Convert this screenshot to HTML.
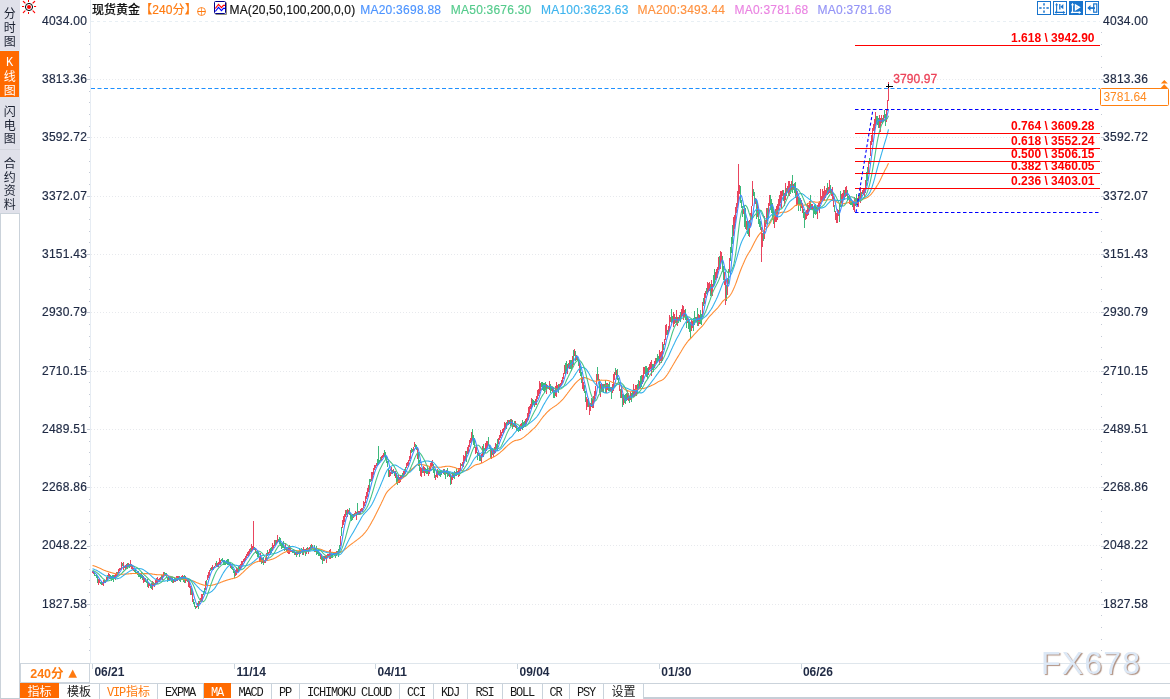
<!DOCTYPE html>
<html lang="zh-CN">
<head>
<meta charset="utf-8">
<title>现货黄金 240分</title>
<style>
html,body{margin:0;padding:0;background:#fff;}
body{width:1170px;height:699px;position:relative;overflow:hidden;font-family:"Liberation Sans","Noto Sans CJK SC",sans-serif;font-size:12px;color:#1f2a44;}
div{position:absolute;box-sizing:border-box;white-space:nowrap;}
#chart{position:absolute;left:0;top:0;}
.yl,.yr,.dt,.fib,.hd{line-height:14px;height:14px;}
.yl,.yr{-webkit-text-stroke:0.2px #1f2a44;}
.yl{left:30px;width:57.1px;text-align:right;letter-spacing:0.25px;}
.yr{left:1103.1px;letter-spacing:0.25px;}
.dt{top:664.6px;font-weight:bold;}
.fib{right:75.5px;font-weight:bold;color:#ff0000;}
.hd{top:2.9px;-webkit-text-stroke:0.15px currentColor;}
.side{left:0;width:20px;background:#e0e1ea;text-align:center;font-family:"Liberation Serif","Noto Sans CJK SC",sans-serif;color:#1a2030;}
.side span{display:block;position:absolute;left:0;width:19.3px;height:14px;line-height:14px;font-size:12px;}
.tab{top:684px;height:15px;line-height:19.5px;text-align:center;font-family:"Liberation Mono","Noto Sans CJK SC",monospace;font-size:12px;color:#1a1a1a;border-right:1px solid #c9d3dc;overflow:hidden;}
.tab .ln{display:inline-block;letter-spacing:-1.2px;margin-right:1.2px;}
.tab.cn{font-size:12px;}
.tab.on{top:683px;height:15px;line-height:21.5px;background:#ff6a00;color:#fff;border-right:0;}
.tab.vip{color:#ff7a0f;}
</style>
</head>
<body>
<svg id="chart" width="1170" height="699" viewBox="0 0 1170 699" fill="none" stroke-width="1" shape-rendering="crispEdges">
<path d="M90.5 0V663" stroke="#e6ecf3"/>
<path d="M91 21.5H1100" stroke="#e8eff4" stroke-dasharray="3 3"/>
<path d="M91 79.5H1100" stroke="#e7e9ed" stroke-dasharray="1 2"/>
<path d="M91 137.5H1100" stroke="#e7e9ed" stroke-dasharray="1 2"/>
<path d="M91 196.5H1100" stroke="#e7e9ed" stroke-dasharray="1 2"/>
<path d="M91 254.5H1100" stroke="#e7e9ed" stroke-dasharray="1 2"/>
<path d="M91 312.5H1100" stroke="#e7e9ed" stroke-dasharray="1 2"/>
<path d="M91 371.5H1100" stroke="#e7e9ed" stroke-dasharray="1 2"/>
<path d="M91 429.5H1100" stroke="#e7e9ed" stroke-dasharray="1 2"/>
<path d="M91 487.5H1100" stroke="#e7e9ed" stroke-dasharray="1 2"/>
<path d="M91 545.5H1100" stroke="#e7e9ed" stroke-dasharray="1 2"/>
<path d="M91 604.5H1100" stroke="#e7e9ed" stroke-dasharray="1 2"/>
<path d="M89 32.5H90M1101 32.5H1102M89 44.5H90M1101 44.5H1102M89 56.5H90M1101 56.5H1102M89 67.5H90M1101 67.5H1102M87 79.5H90M1101 79.5H1104M89 91.5H90M1101 91.5H1102M89 102.5H90M1101 102.5H1102M89 114.5H90M1101 114.5H1102M89 126.5H90M1101 126.5H1102M87 137.5H90M1101 137.5H1104M89 149.5H90M1101 149.5H1102M89 161.5H90M1101 161.5H1102M89 172.5H90M1101 172.5H1102M89 184.5H90M1101 184.5H1102M87 196.5H90M1101 196.5H1104M89 207.5H90M1101 207.5H1102M89 219.5H90M1101 219.5H1102M89 231.5H90M1101 231.5H1102M89 242.5H90M1101 242.5H1102M87 254.5H90M1101 254.5H1104M89 266.5H90M1101 266.5H1102M89 277.5H90M1101 277.5H1102M89 289.5H90M1101 289.5H1102M89 301.5H90M1101 301.5H1102M87 312.5H90M1101 312.5H1104M89 324.5H90M1101 324.5H1102M89 336.5H90M1101 336.5H1102M89 347.5H90M1101 347.5H1102M89 359.5H90M1101 359.5H1102M87 371.5H90M1101 371.5H1104M89 382.5H90M1101 382.5H1102M89 394.5H90M1101 394.5H1102M89 406.5H90M1101 406.5H1102M89 417.5H90M1101 417.5H1102M87 429.5H90M1101 429.5H1104M89 441.5H90M1101 441.5H1102M89 452.5H90M1101 452.5H1102M89 464.5H90M1101 464.5H1102M89 476.5H90M1101 476.5H1102M87 487.5H90M1101 487.5H1104M89 499.5H90M1101 499.5H1102M89 511.5H90M1101 511.5H1102M89 522.5H90M1101 522.5H1102M89 534.5H90M1101 534.5H1102M87 546.5H90M1101 546.5H1104M89 557.5H90M1101 557.5H1102M89 569.5H90M1101 569.5H1102M89 580.5H90M1101 580.5H1102M89 592.5H90M1101 592.5H1102M87 604.5H90M1101 604.5H1104M89 615.5H90M1101 615.5H1102M89 627.5H90M1101 627.5H1102M89 639.5H90M1101 639.5H1102M89 650.5H90M1101 650.5H1102" stroke="#c4cad6"/>
<g shape-rendering="crispEdges">
<path d="M94.5 572.3V575.5M95.5 574.5V575.9M96.5 574.1V577.7M97.5 576.3V582.7M100.5 581.6V583.6M101.5 581.9V584.6M104.5 579.8V582.9M107.5 575.4V580.5M110.5 575.0V578.7M111.5 576.2V581.3M112.5 574.9V579.9M113.5 575.2V581.9M117.5 572.0V575.8M122.5 563.3V566.4M124.5 565.6V567.9M127.5 563.0V569.2M129.5 563.8V568.3M134.5 569.5V571.7M135.5 569.6V574.1M136.5 571.8V573.9M137.5 571.2V574.7M138.5 570.6V576.5M139.5 574.3V577.4M140.5 574.4V579.3M141.5 572.4V577.9M142.5 575.2V580.0M145.5 577.6V582.4M146.5 580.6V583.3M147.5 578.9V586.9M150.5 584.2V587.5M151.5 583.1V589.3M161.5 575.4V579.0M164.5 571.8V575.0M165.5 573.3V575.5M166.5 572.9V578.2M167.5 576.6V581.9M169.5 577.2V580.9M171.5 576.6V581.7M172.5 577.2V582.5M174.5 577.4V581.9M179.5 575.8V581.2M180.5 576.7V581.5M183.5 576.4V581.8M184.5 575.0V582.7M187.5 579.9V582.2M191.5 587.7V595.1M193.5 599.2V603.5M194.5 601.5V606.7M195.5 605.5V608.7M198.5 601.4V609.0M203.5 591.3V594.8M204.5 588.4V593.0M206.5 580.4V586.1M210.5 568.3V571.1M213.5 566.6V569.5M216.5 561.4V566.7M221.5 558.7V561.1M222.5 558.2V561.8M223.5 559.5V564.7M224.5 560.4V564.8M225.5 561.7V564.9M226.5 560.1V563.9M227.5 558.5V565.2M228.5 559.2V565.4M229.5 562.4V566.1M231.5 565.7V568.9M232.5 567.4V570.1M233.5 569.1V573.4M234.5 570.5V577.8M238.5 565.6V572.1M250.5 547.7V552.0M254.5 547.1V549.5M256.5 551.3V553.7M257.5 550.8V557.4M258.5 552.3V557.2M261.5 558.0V563.5M263.5 557.4V564.9M267.5 550.4V556.4M270.5 548.2V554.9M271.5 546.5V552.9M275.5 540.3V544.5M278.5 538.8V541.7M279.5 536.8V543.5M280.5 537.6V545.8M281.5 542.8V548.6M282.5 542.7V548.1M283.5 541.2V547.9M284.5 547.0V550.5M286.5 546.6V551.0M292.5 549.8V553.3M293.5 549.0V553.2M294.5 550.7V554.9M296.5 552.3V556.5M299.5 548.3V557.0M301.5 547.6V551.7M302.5 548.8V555.3M305.5 548.8V556.4M307.5 546.5V551.1M310.5 544.6V549.5M312.5 544.7V548.7M313.5 548.0V549.7M314.5 545.3V552.2M316.5 546.3V554.5M317.5 551.0V554.0M318.5 551.5V556.1M319.5 552.7V555.7M321.5 554.3V560.2M322.5 556.9V564.0M324.5 555.8V560.7M331.5 552.3V558.3M332.5 553.5V557.5M333.5 552.0V555.1M335.5 551.6V558.3M337.5 550.8V554.2M338.5 548.8V557.1M339.5 544.9V553.4M341.5 527.2V536.1M346.5 509.5V514.9M349.5 508.0V514.8M350.5 512.9V518.8M351.5 514.9V520.6M352.5 513.9V520.0M357.5 503.0V514.8M369.5 479.2V489.8M370.5 479.2V482.4M377.5 459.0V464.9M378.5 446.0V464.9M379.5 459.9V462.6M380.5 456.9V461.4M384.5 449.9V455.9M385.5 452.0V459.5M386.5 456.0V462.9M387.5 460.6V467.3M388.5 467.5V476.7M392.5 470.0V474.1M394.5 471.1V475.7M396.5 473.4V484.0M397.5 477.1V484.6M402.5 472.6V477.0M405.5 467.4V474.3M411.5 447.6V453.3M412.5 448.8V452.0M415.5 443.7V448.7M416.5 444.8V450.3M418.5 451.9V465.8M419.5 459.5V471.4M422.5 468.2V473.4M425.5 467.8V473.2M426.5 469.4V473.8M427.5 465.5V473.9M433.5 464.0V473.0M434.5 468.7V478.1M438.5 471.1V474.1M439.5 471.1V475.9M440.5 470.1V477.1M441.5 469.9V474.8M444.5 469.1V474.9M445.5 470.5V479.0M447.5 467.6V477.1M448.5 471.7V475.6M450.5 474.0V484.8M453.5 473.1V478.2M454.5 471.0V479.4M456.5 468.2V475.8M461.5 463.6V466.2M466.5 451.3V462.0M472.5 429.1V439.7M473.5 435.0V445.0M474.5 438.4V447.9M477.5 452.2V459.8M479.5 453.6V460.7M480.5 456.3V460.7M483.5 443.9V456.7M484.5 447.9V451.0M488.5 437.4V444.8M489.5 444.8V449.2M490.5 447.4V457.7M492.5 448.4V454.5M496.5 444.4V449.1M497.5 439.1V450.9M506.5 421.6V428.9M508.5 420.1V424.5M510.5 418.9V426.4M512.5 420.2V428.5M514.5 421.4V427.4M516.5 425.1V430.5M517.5 428.3V431.2M518.5 426.9V432.1M519.5 426.0V430.6M522.5 420.4V430.2M523.5 422.1V427.7M524.5 421.0V425.9M532.5 398.8V406.5M533.5 400.0V405.0M534.5 400.6V407.0M541.5 382.2V386.8M542.5 382.0V389.6M543.5 382.7V391.3M544.5 383.2V392.5M545.5 382.1V389.7M547.5 384.9V388.0M548.5 385.5V389.1M550.5 384.4V392.6M551.5 386.0V390.9M553.5 386.8V398.1M554.5 389.5V397.6M558.5 384.4V392.6M565.5 363.0V374.8M566.5 360.7V370.9M568.5 362.6V367.6M570.5 360.4V368.8M571.5 360.3V370.6M573.5 350.3V364.5M575.5 351.3V361.3M577.5 357.2V361.2M578.5 359.3V366.0M580.5 366.4V376.2M581.5 371.9V382.7M584.5 384.8V393.4M585.5 391.1V402.4M588.5 398.4V406.9M591.5 398.0V406.9M597.5 366.5V380.2M599.5 379.2V392.9M601.5 383.3V392.0M603.5 383.8V392.8M605.5 379.5V392.8M608.5 383.5V391.2M609.5 382.1V390.7M611.5 387.0V398.7M615.5 368.4V375.2M617.5 368.6V380.3M618.5 377.7V382.6M620.5 388.8V398.2M622.5 393.5V406.8M624.5 395.2V403.4M625.5 394.0V404.1M626.5 392.5V400.7M629.5 395.7V402.9M631.5 393.1V401.8M632.5 389.9V397.3M637.5 384.4V393.9M638.5 380.4V388.7M640.5 375.5V388.9M641.5 375.1V387.0M645.5 365.8V374.6M646.5 365.5V376.8M647.5 368.0V378.9M652.5 363.7V370.4M653.5 363.5V371.6M656.5 357.8V362.8M657.5 354.0V362.0M658.5 355.8V361.3M663.5 343.7V349.9M667.5 330.1V334.9M671.5 308.6V322.8M672.5 315.6V321.9M675.5 317.4V323.3M678.5 316.9V323.3M680.5 312.0V321.6M685.5 308.7V320.1M686.5 315.4V328.3M688.5 318.7V328.5M689.5 322.3V331.5M690.5 322.0V338.0M693.5 318.0V331.3M694.5 310.5V325.2M695.5 316.9V322.3M697.5 308.3V325.5M700.5 310.4V324.0M701.5 314.1V324.7M703.5 298.3V305.6M706.5 287.8V293.8M710.5 284.3V295.7M713.5 275.3V287.0M714.5 269.1V285.2M719.5 255.8V268.1M722.5 256.2V272.2M723.5 266.4V279.7M726.5 284.7V300.9M728.5 269.1V283.5M730.5 247.1V260.9M731.5 237.4V253.2M732.5 225.3V243.9M740.5 186.0V202.8M741.5 199.5V208.1M742.5 206.2V217.4M744.5 206.1V226.6M745.5 207.5V229.4M747.5 221.1V233.5M748.5 220.5V235.8M753.5 189.0V195.7M754.5 192.4V201.5M756.5 198.8V218.7M758.5 209.2V223.5M759.5 218.6V226.8M760.5 221.1V229.7M763.5 231.9V241.0M767.5 207.7V221.2M770.5 195.0V210.4M771.5 198.9V213.1M772.5 203.3V220.2M773.5 208.5V223.6M783.5 190.1V200.5M786.5 187.5V195.8M790.5 183.9V194.3M792.5 175.4V192.7M794.5 182.7V193.0M795.5 181.6V198.4M798.5 196.6V211.4M799.5 198.0V205.2M800.5 197.7V211.3M803.5 209.1V218.4M804.5 212.2V228.0M810.5 195.0V210.3M813.5 207.2V218.0M814.5 204.7V214.1M815.5 203.7V215.0M816.5 207.2V214.4M827.5 183.2V194.8M830.5 184.8V193.4M834.5 204.6V212.3M839.5 203.8V221.8M840.5 191.0V207.0M844.5 189.5V199.9M847.5 189.6V199.7M848.5 195.9V200.3M850.5 198.0V204.5M851.5 199.0V205.0M852.5 201.0V206.6M855.5 197.7V205.8M856.5 194.4V205.4M859.5 192.8V200.6M861.5 191.6V197.8M866.5 172.0V185.6M867.5 166.8V180.8M869.5 157.6V163.6M876.5 115.7V122.8M877.5 115.6V125.1M878.5 117.9V128.0M882.5 117.5V124.1M884.5 110.0V117.9M885.5 113.7V125.8" stroke="#3db97c" />
<path d="M92.5 571.2V572.6M93.5 571.0V573.7M98.5 578.5V584.5M99.5 578.7V583.2M102.5 582.4V585.3M103.5 580.3V585.8M105.5 579.7V583.1M106.5 576.9V580.5M108.5 573.0V577.9M109.5 573.6V578.6M114.5 574.8V578.4M115.5 574.0V579.8M116.5 572.3V575.7M118.5 569.0V573.0M119.5 568.1V570.5M120.5 567.5V570.3M121.5 562.0V569.4M123.5 562.4V569.7M125.5 565.2V568.7M126.5 564.3V567.8M128.5 562.9V566.6M130.5 559.9V566.5M131.5 564.3V568.8M132.5 565.4V569.8M133.5 567.9V570.8M143.5 575.6V582.9M144.5 577.8V581.5M148.5 581.8V587.5M149.5 583.2V585.9M152.5 581.0V590.3M153.5 582.4V585.9M154.5 582.6V586.7M155.5 579.5V583.8M156.5 578.0V582.8M157.5 576.6V583.5M158.5 578.7V582.0M159.5 577.7V582.1M160.5 576.9V580.3M162.5 574.5V579.7M163.5 572.0V577.0M168.5 577.2V579.7M170.5 577.4V580.2M173.5 579.2V582.8M175.5 577.6V582.2M176.5 576.2V581.3M177.5 575.9V580.5M178.5 576.0V579.4M181.5 575.6V579.0M182.5 574.7V578.6M185.5 575.7V582.7M186.5 578.6V580.8M188.5 578.8V586.5M189.5 580.8V588.0M190.5 585.5V595.0M192.5 590.2V602.0M196.5 605.7V607.7M197.5 602.9V606.6M199.5 601.0V604.0M200.5 598.2V602.0M201.5 593.6V601.3M202.5 593.7V601.4M205.5 580.7V589.5M207.5 574.6V580.1M208.5 571.8V578.2M209.5 569.5V575.6M211.5 566.5V570.3M212.5 565.0V569.6M214.5 565.5V568.2M215.5 562.6V566.4M217.5 563.2V567.3M218.5 562.1V566.6M219.5 558.4V564.1M220.5 559.8V564.6M230.5 563.3V568.3M235.5 569.7V576.2M236.5 567.3V574.7M237.5 568.0V572.4M239.5 565.0V570.0M240.5 564.1V570.4M241.5 560.8V566.5M242.5 560.5V565.1M243.5 558.5V561.8M244.5 557.7V562.5M245.5 556.2V561.2M246.5 554.0V558.1M247.5 552.0V556.0M248.5 550.9V555.7M249.5 549.3V554.1M251.5 544.4V552.2M252.5 545.9V549.8M253.5 521.0V550.2M255.5 547.5V552.7M259.5 555.7V561.8M260.5 553.3V562.3M262.5 558.3V562.7M264.5 560.1V562.9M265.5 558.0V563.4M266.5 553.0V560.1M268.5 552.1V554.7M269.5 549.4V553.1M272.5 543.0V551.0M273.5 544.6V548.4M274.5 539.9V546.4M276.5 540.0V544.3M277.5 535.2V541.6M285.5 543.2V550.0M287.5 548.7V553.4M288.5 547.1V553.5M289.5 545.2V554.3M290.5 548.4V552.3M291.5 549.7V552.4M295.5 552.4V554.6M297.5 552.1V555.3M298.5 550.5V554.3M300.5 550.2V554.2M303.5 547.1V555.1M304.5 548.5V551.8M306.5 547.5V553.5M308.5 548.2V554.4M309.5 546.5V550.6M311.5 544.1V548.1M315.5 548.0V551.9M320.5 554.0V558.5M323.5 555.6V561.2M325.5 556.0V558.7M326.5 554.6V562.8M327.5 553.9V558.4M328.5 553.6V556.1M329.5 550.3V559.3M330.5 548.9V558.7M334.5 551.7V555.1M336.5 550.5V555.5M340.5 535.8V546.1M342.5 520.1V528.0M343.5 516.2V524.9M344.5 513.9V522.4M345.5 509.7V517.4M347.5 508.8V516.9M348.5 509.7V514.1M353.5 514.2V518.1M354.5 512.6V515.9M355.5 511.4V514.2M356.5 511.9V519.6M358.5 510.5V515.1M359.5 510.7V515.1M360.5 508.5V514.2M361.5 507.9V511.3M362.5 507.5V511.7M363.5 501.3V508.1M364.5 501.9V505.8M365.5 496.3V502.6M366.5 492.3V499.2M367.5 488.3V497.2M368.5 484.8V491.7M371.5 471.9V481.2M372.5 471.8V478.8M373.5 467.7V475.1M374.5 464.6V470.4M375.5 464.6V467.5M376.5 463.2V466.3M381.5 456.2V461.3M382.5 454.8V458.2M383.5 453.1V456.6M389.5 469.7V476.7M390.5 472.4V476.1M391.5 467.2V473.6M393.5 469.0V472.8M395.5 470.6V478.1M398.5 475.2V483.3M399.5 476.9V483.2M400.5 474.9V481.9M401.5 474.8V477.6M403.5 471.0V477.5M404.5 469.4V474.6M406.5 463.0V468.3M407.5 462.0V465.9M408.5 459.6V466.8M409.5 455.6V461.3M410.5 450.2V458.5M413.5 446.7V451.4M414.5 442.4V447.3M417.5 447.7V459.0M420.5 467.2V475.8M421.5 467.5V476.8M423.5 465.6V472.8M424.5 466.5V475.5M428.5 469.8V476.1M429.5 467.4V474.4M430.5 463.3V471.4M431.5 460.9V467.3M432.5 460.2V465.9M435.5 474.6V480.2M436.5 471.4V476.9M437.5 468.5V477.7M442.5 470.6V473.2M443.5 468.5V474.1M446.5 469.7V474.0M449.5 472.6V476.9M451.5 475.9V483.7M452.5 473.0V479.8M455.5 471.6V475.8M457.5 470.5V474.7M458.5 467.6V477.4M459.5 468.3V475.7M460.5 463.3V471.1M462.5 461.8V466.0M463.5 454.5V467.0M464.5 456.0V460.7M465.5 451.4V459.5M467.5 447.4V454.0M468.5 445.2V452.5M469.5 439.7V447.1M470.5 437.6V442.8M471.5 432.3V442.2M475.5 446.6V453.7M476.5 446.3V453.4M478.5 452.7V456.0M481.5 454.1V462.7M482.5 445.9V456.5M485.5 443.3V452.5M486.5 441.4V451.0M487.5 441.4V446.9M491.5 447.9V459.3M493.5 449.2V456.8M494.5 446.9V454.4M495.5 442.9V452.8M498.5 438.0V444.3M499.5 434.7V440.3M500.5 430.4V438.2M501.5 432.0V436.4M502.5 428.6V432.9M503.5 427.6V434.1M504.5 421.5V430.2M505.5 423.0V427.6M507.5 419.9V423.5M509.5 420.4V424.0M511.5 419.0V424.6M513.5 422.9V427.3M515.5 420.5V428.2M520.5 423.8V430.9M521.5 422.9V429.3M525.5 419.1V427.4M526.5 417.5V424.0M527.5 413.2V421.3M528.5 407.3V420.0M529.5 406.1V414.0M530.5 404.1V409.3M531.5 398.3V408.2M535.5 398.8V404.7M536.5 396.4V405.3M537.5 389.7V398.7M538.5 388.9V396.1M539.5 381.4V393.7M540.5 383.0V390.9M546.5 384.4V393.8M549.5 381.4V390.1M552.5 387.2V392.4M555.5 386.4V395.8M556.5 382.2V396.8M557.5 384.8V389.8M559.5 383.5V389.0M560.5 382.5V387.0M561.5 379.6V384.6M562.5 376.9V382.9M563.5 372.7V378.6M564.5 365.4V374.3M567.5 364.1V374.3M569.5 359.5V369.3M572.5 356.1V367.8M574.5 349.3V356.3M576.5 355.0V359.6M579.5 362.2V373.3M582.5 376.7V388.8M583.5 382.1V391.4M586.5 397.0V410.4M587.5 398.5V406.6M589.5 403.3V414.8M590.5 402.5V411.2M592.5 399.0V407.7M593.5 396.1V408.3M594.5 390.9V400.5M595.5 385.8V395.6M596.5 373.6V385.6M598.5 374.4V379.7M600.5 384.4V397.3M602.5 384.4V392.4M604.5 384.2V387.4M606.5 382.9V392.8M607.5 383.2V390.4M610.5 387.1V391.3M612.5 383.9V392.9M613.5 374.1V390.6M614.5 371.5V380.1M616.5 369.8V378.7M619.5 381.8V390.7M621.5 386.7V398.3M623.5 394.1V405.3M627.5 389.9V399.9M628.5 393.0V401.4M630.5 391.9V400.0M633.5 384.2V397.3M634.5 389.3V395.7M635.5 384.9V395.1M636.5 385.0V396.0M639.5 381.3V389.1M642.5 375.3V384.0M643.5 367.0V382.1M644.5 367.4V374.1M648.5 366.8V375.3M649.5 364.4V369.6M650.5 362.4V369.2M651.5 359.5V375.7M654.5 361.1V367.6M655.5 357.8V364.3M659.5 349.5V364.8M660.5 351.9V361.1M661.5 350.8V363.4M662.5 342.4V360.7M664.5 338.7V344.8M665.5 325.3V340.4M666.5 323.7V334.8M668.5 326.1V334.2M669.5 315.4V329.9M670.5 316.8V322.1M673.5 312.3V327.0M674.5 313.9V324.0M676.5 309.9V325.0M677.5 316.8V326.4M679.5 314.6V319.6M681.5 308.5V317.3M682.5 304.6V314.8M683.5 305.5V320.3M684.5 310.1V316.6M687.5 317.3V323.2M691.5 320.1V330.8M692.5 320.7V328.0M696.5 316.5V321.6M698.5 314.0V326.3M699.5 314.5V323.6M702.5 302.1V317.1M704.5 293.2V303.8M705.5 291.4V298.0M707.5 281.7V295.3M708.5 282.9V291.5M709.5 281.9V290.5M711.5 280.3V295.0M712.5 283.7V295.6M715.5 272.3V280.2M716.5 269.0V277.8M717.5 267.3V277.8M718.5 256.9V269.6M720.5 251.0V268.7M721.5 252.4V262.2M724.5 271.6V285.3M725.5 279.9V305.0M727.5 277.8V295.4M729.5 258.1V271.8M733.5 216.9V235.6M734.5 214.6V228.8M735.5 206.7V223.2M736.5 202.6V212.5M737.5 191.2V208.1M738.5 164.0V202.5M739.5 184.8V194.1M743.5 208.7V214.2M746.5 220.9V230.3M749.5 219.7V237.0M750.5 213.4V226.7M751.5 206.3V219.6M752.5 181.0V206.2M755.5 198.3V204.3M757.5 203.0V216.6M761.5 227.2V262.0M762.5 232.8V246.9M764.5 215.9V238.9M765.5 220.4V226.7M766.5 208.3V223.7M768.5 202.6V217.0M769.5 195.4V205.7M774.5 215.1V228.3M775.5 209.3V221.8M776.5 206.1V222.0M777.5 204.4V219.7M778.5 199.3V209.5M779.5 195.0V206.3M780.5 190.8V202.7M781.5 190.6V207.7M782.5 189.5V196.3M784.5 192.9V205.6M785.5 183.2V200.3M787.5 186.4V191.8M788.5 180.7V195.5M789.5 181.4V196.2M791.5 180.9V189.9M793.5 184.3V189.7M796.5 189.2V205.8M797.5 190.9V205.1M801.5 200.1V208.0M802.5 203.2V213.4M805.5 212.3V220.2M806.5 209.9V218.6M807.5 202.5V216.4M808.5 204.8V214.7M809.5 200.9V210.8M811.5 204.1V209.1M812.5 204.1V210.0M817.5 205.4V219.3M818.5 203.0V209.3M819.5 201.1V213.2M820.5 189.4V204.4M821.5 196.0V202.2M822.5 189.3V200.9M823.5 190.7V200.9M824.5 185.6V199.8M825.5 190.3V198.2M826.5 188.4V195.2M828.5 187.3V193.8M829.5 179.7V192.8M831.5 189.2V195.9M832.5 187.0V200.7M833.5 195.9V207.2M835.5 211.2V220.3M836.5 213.3V223.2M837.5 209.0V223.4M838.5 209.8V215.6M841.5 193.8V202.8M842.5 192.7V205.5M843.5 190.4V197.9M845.5 187.1V197.3M846.5 186.4V196.2M849.5 195.3V204.4M853.5 201.0V209.9M854.5 196.5V211.5M857.5 197.7V204.9M858.5 195.1V207.2M860.5 187.4V203.4M862.5 189.7V194.3M863.5 188.0V195.3M864.5 188.6V196.8M865.5 180.4V192.9M868.5 160.7V173.7M870.5 141.3V155.8M871.5 134.6V145.3M872.5 128.1V142.1M873.5 124.2V130.6M874.5 118.8V135.1M875.5 111.7V126.4M879.5 115.1V127.6M880.5 117.6V132.1M881.5 115.2V123.3M883.5 115.1V121.5M886.5 109.0V122.1M887.5 99.5V111.0M888.5 82.3V101.3" stroke="#e9455e" />
</g>
<g shape-rendering="auto" stroke-width="1.08" stroke-linejoin="round">
<path d="M92.5 565.5L93.0 565.6L93.5 565.8L94.0 565.9L94.5 566.1L95.0 566.3L95.5 566.4L96.0 566.6L96.5 566.8L97.0 567.0L97.5 567.2L98.0 567.4L98.5 567.6L99.0 567.9L99.5 568.1L100.0 568.3L100.5 568.6L101.0 568.8L101.5 569.0L102.0 569.3L102.5 569.5L103.0 569.8L103.5 570.0L104.0 570.2L104.5 570.4L105.0 570.6L105.5 570.8L106.0 571.0L106.5 571.2L107.0 571.3L107.5 571.5L108.0 571.6L108.5 571.8L109.0 572.0L109.5 572.1L110.0 572.2L110.5 572.4L111.0 572.5L111.5 572.7L112.0 572.8L112.5 573.0L113.0 573.1L113.5 573.3L114.0 573.4L114.5 573.5L115.0 573.6L115.5 573.7L116.0 573.8L116.5 573.9L117.0 574.0L117.5 574.1L118.0 574.2L118.5 574.2L119.0 574.2L119.5 574.3L120.0 574.3L120.5 574.3L121.0 574.3L121.5 574.3L122.0 574.3L122.5 574.2L123.0 574.2L123.5 574.2L124.0 574.2L124.5 574.1L125.0 574.1L125.5 574.1L126.0 574.1L126.5 574.0L127.0 574.0L127.5 574.0L128.0 573.9L128.5 573.9L129.0 573.8L129.5 573.8L130.0 573.7L130.5 573.6L131.0 573.6L131.5 573.6L132.0 573.5L132.5 573.5L133.0 573.5L133.5 573.5L134.0 573.5L134.5 573.5L135.0 573.5L135.5 573.5L136.0 573.5L136.5 573.5L137.0 573.5L137.5 573.5L138.0 573.5L138.5 573.6L139.0 573.6L139.5 573.6L140.0 573.6L140.5 573.6L141.0 573.6L141.5 573.6L142.0 573.6L142.5 573.7L143.0 573.7L143.5 573.7L144.0 573.6L144.5 573.6L145.0 573.6L145.5 573.6L146.0 573.6L146.5 573.6L147.0 573.6L147.5 573.6L148.0 573.6L148.5 573.6L149.0 573.6L149.5 573.7L150.0 573.7L150.5 573.8L151.0 573.8L151.5 573.9L152.0 574.0L152.5 574.1L153.0 574.2L153.5 574.3L154.0 574.3L154.5 574.4L155.0 574.5L155.5 574.5L156.0 574.6L156.5 574.6L157.0 574.7L157.5 574.7L158.0 574.7L158.5 574.8L159.0 574.8L159.5 574.8L160.0 574.8L160.5 574.8L161.0 574.9L161.5 574.9L162.0 574.9L162.5 574.9L163.0 574.9L163.5 575.0L164.0 575.0L164.5 575.1L165.0 575.1L165.5 575.2L166.0 575.2L166.5 575.3L167.0 575.5L167.5 575.6L168.0 575.8L168.5 575.9L169.0 576.0L169.5 576.2L170.0 576.3L170.5 576.4L171.0 576.6L171.5 576.7L172.0 576.9L172.5 577.1L173.0 577.2L173.5 577.4L174.0 577.6L174.5 577.8L175.0 577.9L175.5 578.1L176.0 578.3L176.5 578.4L177.0 578.6L177.5 578.7L178.0 578.8L178.5 578.9L179.0 578.9L179.5 579.0L180.0 579.1L180.5 579.2L181.0 579.3L181.5 579.3L182.0 579.4L182.5 579.4L183.0 579.5L183.5 579.5L184.0 579.5L184.5 579.6L185.0 579.6L185.5 579.7L186.0 579.7L186.5 579.7L187.0 579.8L187.5 579.8L188.0 579.8L188.5 579.9L189.0 579.9L189.5 580.0L190.0 580.1L190.5 580.2L191.0 580.3L191.5 580.5L192.0 580.6L192.5 580.8L193.0 581.0L193.5 581.1L194.0 581.3L194.5 581.6L195.0 581.8L195.5 582.0L196.0 582.3L196.5 582.5L197.0 582.7L197.5 582.9L198.0 583.1L198.5 583.3L199.0 583.5L199.5 583.7L200.0 583.9L200.5 584.1L201.0 584.3L201.5 584.4L202.0 584.6L202.5 584.8L203.0 584.9L203.5 585.0L204.0 585.2L204.5 585.3L205.0 585.4L205.5 585.4L206.0 585.5L206.5 585.5L207.0 585.5L207.5 585.6L208.0 585.5L208.5 585.5L209.0 585.5L209.5 585.5L210.0 585.5L210.5 585.4L211.0 585.3L211.5 585.3L212.0 585.2L212.5 585.1L213.0 585.0L213.5 584.8L214.0 584.7L214.5 584.6L215.0 584.4L215.5 584.3L216.0 584.1L216.5 584.0L217.0 583.9L217.5 583.7L218.0 583.5L218.5 583.3L219.0 583.1L219.5 582.9L220.0 582.7L220.5 582.5L221.0 582.3L221.5 582.1L222.0 581.9L222.5 581.7L223.0 581.5L223.5 581.3L224.0 581.1L224.5 581.0L225.0 580.8L225.5 580.6L226.0 580.5L226.5 580.3L227.0 580.1L227.5 580.0L228.0 579.8L228.5 579.7L229.0 579.5L229.5 579.4L230.0 579.2L230.5 579.1L231.0 579.0L231.5 578.8L232.0 578.7L232.5 578.6L233.0 578.5L233.5 578.3L234.0 578.2L234.5 578.1L235.0 578.0L235.5 577.8L236.0 577.6L236.5 577.4L237.0 577.2L237.5 576.9L238.0 576.6L238.5 576.3L239.0 575.9L239.5 575.5L240.0 575.1L240.5 574.7L241.0 574.2L241.5 573.7L242.0 573.2L242.5 572.8L243.0 572.3L243.5 571.8L244.0 571.3L244.5 570.8L245.0 570.3L245.5 569.9L246.0 569.4L246.5 568.9L247.0 568.5L247.5 568.0L248.0 567.6L248.5 567.1L249.0 566.7L249.5 566.2L250.0 565.8L250.5 565.4L251.0 565.0L251.5 564.6L252.0 564.3L252.5 563.9L253.0 563.6L253.5 563.3L254.0 563.0L254.5 562.7L255.0 562.5L255.5 562.3L256.0 562.1L256.5 561.9L257.0 561.8L257.5 561.6L258.0 561.5L258.5 561.3L259.0 561.2L259.5 561.1L260.0 561.0L260.5 560.9L261.0 560.9L261.5 560.8L262.0 560.8L262.5 560.7L263.0 560.7L263.5 560.7L264.0 560.6L264.5 560.6L265.0 560.6L265.5 560.6L266.0 560.5L266.5 560.5L267.0 560.4L267.5 560.4L268.0 560.3L268.5 560.2L269.0 560.1L269.5 560.0L270.0 559.8L270.5 559.7L271.0 559.5L271.5 559.4L272.0 559.2L272.5 559.1L273.0 558.9L273.5 558.7L274.0 558.5L274.5 558.3L275.0 558.0L275.5 557.8L276.0 557.5L276.5 557.2L277.0 556.9L277.5 556.6L278.0 556.3L278.5 556.0L279.0 555.6L279.5 555.3L280.0 554.9L280.5 554.6L281.0 554.2L281.5 553.9L282.0 553.7L282.5 553.4L283.0 553.1L283.5 552.9L284.0 552.6L284.5 552.4L285.0 552.2L285.5 552.0L286.0 551.8L286.5 551.6L287.0 551.4L287.5 551.3L288.0 551.2L288.5 551.1L289.0 551.0L289.5 550.9L290.0 550.8L290.5 550.7L291.0 550.6L291.5 550.5L292.0 550.5L292.5 550.5L293.0 550.4L293.5 550.4L294.0 550.4L294.5 550.4L295.0 550.4L295.5 550.5L296.0 550.5L296.5 550.5L297.0 550.6L297.5 550.7L298.0 550.7L298.5 550.8L299.0 550.8L299.5 550.9L300.0 550.9L300.5 550.9L301.0 550.9L301.5 550.9L302.0 550.8L302.5 550.8L303.0 550.8L303.5 550.7L304.0 550.7L304.5 550.6L305.0 550.5L305.5 550.5L306.0 550.4L306.5 550.3L307.0 550.2L307.5 550.0L308.0 549.9L308.5 549.8L309.0 549.6L309.5 549.5L310.0 549.3L310.5 549.2L311.0 549.0L311.5 548.9L312.0 548.8L312.5 548.7L313.0 548.6L313.5 548.6L314.0 548.6L314.5 548.5L315.0 548.5L315.5 548.5L316.0 548.5L316.5 548.6L317.0 548.6L317.5 548.6L318.0 548.7L318.5 548.8L319.0 548.9L319.5 549.0L320.0 549.1L320.5 549.2L321.0 549.4L321.5 549.6L322.0 549.8L322.5 550.0L323.0 550.2L323.5 550.4L324.0 550.6L324.5 550.8L325.0 551.0L325.5 551.2L326.0 551.3L326.5 551.5L327.0 551.6L327.5 551.7L328.0 551.8L328.5 551.9L329.0 552.0L329.5 552.1L330.0 552.1L330.5 552.2L331.0 552.3L331.5 552.3L332.0 552.4L332.5 552.4L333.0 552.5L333.5 552.5L334.0 552.5L334.5 552.5L335.0 552.6L335.5 552.6L336.0 552.6L336.5 552.7L337.0 552.7L337.5 552.7L338.0 552.7L338.5 552.7L339.0 552.7L339.5 552.6L340.0 552.5L340.5 552.3L341.0 552.1L341.5 551.8L342.0 551.5L342.5 551.2L343.0 550.8L343.5 550.5L344.0 550.1L344.5 549.8L345.0 549.3L345.5 548.9L346.0 548.5L346.5 548.1L347.0 547.6L347.5 547.2L348.0 546.8L348.5 546.4L349.0 545.9L349.5 545.5L350.0 545.1L350.5 544.8L351.0 544.4L351.5 544.0L352.0 543.6L352.5 543.3L353.0 542.9L353.5 542.6L354.0 542.2L354.5 541.8L355.0 541.4L355.5 541.0L356.0 540.7L356.5 540.3L357.0 539.9L357.5 539.6L358.0 539.2L358.5 538.8L359.0 538.4L359.5 538.0L360.0 537.6L360.5 537.1L361.0 536.7L361.5 536.3L362.0 535.8L362.5 535.3L363.0 534.8L363.5 534.3L364.0 533.7L364.5 533.2L365.0 532.6L365.5 532.0L366.0 531.3L366.5 530.7L367.0 530.0L367.5 529.2L368.0 528.5L368.5 527.7L369.0 526.8L369.5 526.0L370.0 525.2L370.5 524.3L371.0 523.4L371.5 522.6L372.0 521.6L372.5 520.7L373.0 519.8L373.5 518.9L374.0 517.9L374.5 516.9L375.0 515.9L375.5 515.0L376.0 514.0L376.5 513.0L377.0 512.0L377.5 511.0L378.0 510.0L378.5 509.0L379.0 508.0L379.5 507.0L380.0 505.9L380.5 504.9L381.0 503.9L381.5 502.8L382.0 501.8L382.5 500.7L383.0 499.7L383.5 498.6L384.0 497.5L384.5 496.5L385.0 495.5L385.5 494.5L386.0 493.6L386.5 492.8L387.0 492.1L387.5 491.4L388.0 490.8L388.5 490.3L389.0 489.8L389.5 489.3L390.0 488.8L390.5 488.3L391.0 487.9L391.5 487.5L392.0 487.0L392.5 486.6L393.0 486.1L393.5 485.7L394.0 485.3L394.5 484.8L395.0 484.4L395.5 484.0L396.0 483.6L396.5 483.2L397.0 482.7L397.5 482.3L398.0 481.9L398.5 481.5L399.0 481.1L399.5 480.7L400.0 480.3L400.5 479.9L401.0 479.5L401.5 479.1L402.0 478.7L402.5 478.3L403.0 477.8L403.5 477.4L404.0 477.0L404.5 476.5L405.0 476.0L405.5 475.6L406.0 475.1L406.5 474.6L407.0 474.1L407.5 473.6L408.0 473.1L408.5 472.6L409.0 472.1L409.5 471.6L410.0 471.1L410.5 470.5L411.0 470.0L411.5 469.5L412.0 469.0L412.5 468.5L413.0 468.1L413.5 467.6L414.0 467.2L414.5 466.7L415.0 466.3L415.5 465.9L416.0 465.5L416.5 465.2L417.0 464.9L417.5 464.7L418.0 464.5L418.5 464.4L419.0 464.3L419.5 464.3L420.0 464.4L420.5 464.4L421.0 464.5L421.5 464.5L422.0 464.6L422.5 464.7L423.0 464.8L423.5 464.9L424.0 465.0L424.5 465.1L425.0 465.1L425.5 465.2L426.0 465.4L426.5 465.5L427.0 465.6L427.5 465.8L428.0 466.0L428.5 466.2L429.0 466.3L429.5 466.5L430.0 466.7L430.5 466.8L431.0 467.0L431.5 467.0L432.0 467.1L432.5 467.1L433.0 467.1L433.5 467.0L434.0 467.0L434.5 467.0L435.0 467.0L435.5 467.1L436.0 467.1L436.5 467.1L437.0 467.2L437.5 467.2L438.0 467.2L438.5 467.2L439.0 467.2L439.5 467.3L440.0 467.3L440.5 467.2L441.0 467.2L441.5 467.1L442.0 467.0L442.5 466.9L443.0 466.8L443.5 466.7L444.0 466.6L444.5 466.6L445.0 466.5L445.5 466.4L446.0 466.4L446.5 466.3L447.0 466.3L447.5 466.3L448.0 466.3L448.5 466.3L449.0 466.3L449.5 466.3L450.0 466.4L450.5 466.5L451.0 466.6L451.5 466.7L452.0 466.8L452.5 467.0L453.0 467.1L453.5 467.2L454.0 467.3L454.5 467.5L455.0 467.6L455.5 467.8L456.0 468.0L456.5 468.3L457.0 468.5L457.5 468.7L458.0 469.0L458.5 469.2L459.0 469.5L459.5 469.7L460.0 470.0L460.5 470.2L461.0 470.4L461.5 470.6L462.0 470.8L462.5 471.0L463.0 471.1L463.5 471.1L464.0 471.0L464.5 471.0L465.0 470.8L465.5 470.7L466.0 470.5L466.5 470.4L467.0 470.2L467.5 470.0L468.0 469.7L468.5 469.4L469.0 469.2L469.5 468.9L470.0 468.6L470.5 468.2L471.0 467.9L471.5 467.5L472.0 467.1L472.5 466.7L473.0 466.4L473.5 466.0L474.0 465.7L474.5 465.4L475.0 465.1L475.5 464.9L476.0 464.8L476.5 464.6L477.0 464.5L477.5 464.4L478.0 464.3L478.5 464.2L479.0 464.0L479.5 463.9L480.0 463.7L480.5 463.5L481.0 463.4L481.5 463.1L482.0 462.9L482.5 462.7L483.0 462.4L483.5 462.2L484.0 461.9L484.5 461.6L485.0 461.4L485.5 461.1L486.0 460.8L486.5 460.6L487.0 460.3L487.5 459.9L488.0 459.6L488.5 459.3L489.0 459.0L489.5 458.7L490.0 458.5L490.5 458.3L491.0 458.1L491.5 457.9L492.0 457.7L492.5 457.5L493.0 457.3L493.5 457.0L494.0 456.8L494.5 456.5L495.0 456.3L495.5 455.9L496.0 455.6L496.5 455.3L497.0 454.9L497.5 454.5L498.0 454.1L498.5 453.8L499.0 453.4L499.5 453.0L500.0 452.6L500.5 452.1L501.0 451.7L501.5 451.3L502.0 450.9L502.5 450.4L503.0 450.0L503.5 449.5L504.0 449.0L504.5 448.5L505.0 448.0L505.5 447.5L506.0 447.0L506.5 446.6L507.0 446.1L507.5 445.6L508.0 445.2L508.5 444.8L509.0 444.4L509.5 444.0L510.0 443.6L510.5 443.2L511.0 442.8L511.5 442.5L512.0 442.1L512.5 441.8L513.0 441.5L513.5 441.3L514.0 441.0L514.5 440.8L515.0 440.6L515.5 440.5L516.0 440.3L516.5 440.2L517.0 440.2L517.5 440.1L518.0 440.0L518.5 439.9L519.0 439.8L519.5 439.6L520.0 439.4L520.5 439.2L521.0 439.0L521.5 438.7L522.0 438.4L522.5 438.1L523.0 437.7L523.5 437.4L524.0 437.1L524.5 436.7L525.0 436.3L525.5 435.9L526.0 435.4L526.5 435.0L527.0 434.6L527.5 434.2L528.0 433.8L528.5 433.3L529.0 432.9L529.5 432.4L530.0 432.0L530.5 431.5L531.0 431.0L531.5 430.5L532.0 430.0L532.5 429.6L533.0 429.1L533.5 428.7L534.0 428.3L534.5 427.8L535.0 427.3L535.5 426.8L536.0 426.2L536.5 425.6L537.0 425.0L537.5 424.3L538.0 423.7L538.5 423.0L539.0 422.4L539.5 421.7L540.0 421.0L540.5 420.3L541.0 419.5L541.5 418.9L542.0 418.2L542.5 417.5L543.0 416.9L543.5 416.3L544.0 415.7L544.5 415.1L545.0 414.6L545.5 414.0L546.0 413.5L546.5 412.9L547.0 412.4L547.5 411.9L548.0 411.4L548.5 411.0L549.0 410.5L549.5 410.0L550.0 409.6L550.5 409.2L551.0 408.8L551.5 408.4L552.0 408.1L552.5 407.7L553.0 407.4L553.5 407.1L554.0 406.8L554.5 406.4L555.0 406.1L555.5 405.8L556.0 405.5L556.5 405.1L557.0 404.7L557.5 404.3L558.0 403.8L558.5 403.4L559.0 403.0L559.5 402.6L560.0 402.1L560.5 401.7L561.0 401.2L561.5 400.7L562.0 400.2L562.5 399.6L563.0 399.1L563.5 398.5L564.0 397.9L564.5 397.2L565.0 396.6L565.5 395.9L566.0 395.3L566.5 394.6L567.0 394.0L567.5 393.3L568.0 392.6L568.5 392.0L569.0 391.3L569.5 390.7L570.0 390.0L570.5 389.3L571.0 388.7L571.5 388.1L572.0 387.4L572.5 386.8L573.0 386.2L573.5 385.6L574.0 384.9L574.5 384.3L575.0 383.7L575.5 383.1L576.0 382.6L576.5 382.1L577.0 381.6L577.5 381.2L578.0 380.7L578.5 380.3L579.0 379.9L579.5 379.5L580.0 379.1L580.5 378.8L581.0 378.5L581.5 378.2L582.0 378.0L582.5 377.8L583.0 377.7L583.5 377.7L584.0 377.6L584.5 377.6L585.0 377.6L585.5 377.7L586.0 377.9L586.5 378.1L587.0 378.3L587.5 378.5L588.0 378.7L588.5 378.9L589.0 379.1L589.5 379.4L590.0 379.7L590.5 379.9L591.0 380.1L591.5 380.2L592.0 380.5L592.5 380.6L593.0 380.8L593.5 380.9L594.0 381.0L594.5 381.1L595.0 381.2L595.5 381.2L596.0 381.2L596.5 381.1L597.0 380.9L597.5 380.7L598.0 380.6L598.5 380.5L599.0 380.4L599.5 380.3L600.0 380.3L600.5 380.2L601.0 380.2L601.5 380.1L602.0 380.2L602.5 380.2L603.0 380.2L603.5 380.2L604.0 380.2L604.5 380.2L605.0 380.2L605.5 380.3L606.0 380.3L606.5 380.3L607.0 380.4L607.5 380.5L608.0 380.5L608.5 380.6L609.0 380.8L609.5 381.0L610.0 381.2L610.5 381.4L611.0 381.6L611.5 381.9L612.0 382.2L612.5 382.4L613.0 382.6L613.5 382.7L614.0 382.9L614.5 383.0L615.0 383.1L615.5 383.2L616.0 383.3L616.5 383.5L617.0 383.6L617.5 383.8L618.0 384.0L618.5 384.2L619.0 384.5L619.5 384.9L620.0 385.3L620.5 385.8L621.0 386.2L621.5 386.6L622.0 387.0L622.5 387.5L623.0 387.9L623.5 388.4L624.0 388.8L624.5 389.2L625.0 389.6L625.5 389.8L626.0 390.1L626.5 390.3L627.0 390.5L627.5 390.7L628.0 390.9L628.5 391.0L629.0 391.1L629.5 391.2L630.0 391.3L630.5 391.3L631.0 391.3L631.5 391.3L632.0 391.2L632.5 391.1L633.0 391.0L633.5 390.8L634.0 390.7L634.5 390.5L635.0 390.3L635.5 390.1L636.0 390.0L636.5 389.8L637.0 389.6L637.5 389.5L638.0 389.3L638.5 389.1L639.0 389.0L639.5 388.8L640.0 388.7L640.5 388.5L641.0 388.5L641.5 388.5L642.0 388.5L642.5 388.5L643.0 388.6L643.5 388.5L644.0 388.4L644.5 388.3L645.0 388.1L645.5 387.9L646.0 387.7L646.5 387.5L647.0 387.4L647.5 387.2L648.0 387.0L648.5 386.8L649.0 386.6L649.5 386.4L650.0 386.2L650.5 386.0L651.0 385.8L651.5 385.5L652.0 385.3L652.5 385.1L653.0 384.9L653.5 384.6L654.0 384.4L654.5 384.1L655.0 383.8L655.5 383.5L656.0 383.2L656.5 382.9L657.0 382.5L657.5 382.2L658.0 381.9L658.5 381.6L659.0 381.4L659.5 381.1L660.0 380.9L660.5 380.7L661.0 380.6L661.5 380.4L662.0 380.1L662.5 379.8L663.0 379.5L663.5 379.1L664.0 378.7L664.5 378.2L665.0 377.7L665.5 377.0L666.0 376.3L666.5 375.7L667.0 375.0L667.5 374.3L668.0 373.5L668.5 372.7L669.0 371.8L669.5 371.0L670.0 370.1L670.5 369.2L671.0 368.4L671.5 367.5L672.0 366.7L672.5 365.8L673.0 365.0L673.5 364.1L674.0 363.3L674.5 362.4L675.0 361.6L675.5 360.7L676.0 359.9L676.5 359.0L677.0 358.2L677.5 357.4L678.0 356.6L678.5 355.8L679.0 355.0L679.5 354.2L680.0 353.3L680.5 352.5L681.0 351.7L681.5 350.8L682.0 350.0L682.5 349.2L683.0 348.3L683.5 347.5L684.0 346.7L684.5 345.9L685.0 345.2L685.5 344.4L686.0 343.8L686.5 343.1L687.0 342.4L687.5 341.8L688.0 341.1L688.5 340.5L689.0 340.0L689.5 339.5L690.0 339.0L690.5 338.5L691.0 338.0L691.5 337.5L692.0 337.0L692.5 336.4L693.0 335.8L693.5 335.3L694.0 334.7L694.5 334.2L695.0 333.7L695.5 333.2L696.0 332.6L696.5 332.1L697.0 331.5L697.5 331.0L698.0 330.4L698.5 329.9L699.0 329.4L699.5 328.9L700.0 328.4L700.5 327.9L701.0 327.4L701.5 327.0L702.0 326.4L702.5 325.8L703.0 325.2L703.5 324.5L704.0 323.9L704.5 323.2L705.0 322.5L705.5 321.8L706.0 321.1L706.5 320.4L707.0 319.7L707.5 319.0L708.0 318.3L708.5 317.7L709.0 317.0L709.5 316.4L710.0 315.8L710.5 315.3L711.0 314.8L711.5 314.3L712.0 313.8L712.5 313.3L713.0 312.7L713.5 312.2L714.0 311.7L714.5 311.2L715.0 310.6L715.5 310.1L716.0 309.6L716.5 309.1L717.0 308.6L717.5 308.1L718.0 307.5L718.5 306.9L719.0 306.2L719.5 305.6L720.0 304.9L720.5 304.3L721.0 303.6L721.5 302.9L722.0 302.2L722.5 301.6L723.0 301.0L723.5 300.5L724.0 300.1L724.5 299.7L725.0 299.3L725.5 299.0L726.0 298.7L726.5 298.5L727.0 298.3L727.5 298.0L728.0 297.6L728.5 297.2L729.0 296.7L729.5 296.1L730.0 295.5L730.5 294.8L731.0 294.0L731.5 293.2L732.0 292.3L732.5 291.3L733.0 290.2L733.5 289.1L734.0 288.0L734.5 286.9L735.0 285.6L735.5 284.4L736.0 283.1L736.5 281.7L737.0 280.3L737.5 278.9L738.0 277.5L738.5 276.0L739.0 274.6L739.5 273.2L740.0 271.8L740.5 270.5L741.0 269.2L741.5 268.0L742.0 266.8L742.5 265.6L743.0 264.5L743.5 263.3L744.0 262.2L744.5 261.0L745.0 259.9L745.5 258.8L746.0 257.8L746.5 256.7L747.0 255.8L747.5 254.9L748.0 254.0L748.5 253.3L749.0 252.5L749.5 251.7L750.0 250.9L750.5 250.1L751.0 249.2L751.5 248.3L752.0 247.3L752.5 246.3L753.0 245.3L753.5 244.3L754.0 243.3L754.5 242.3L755.0 241.3L755.5 240.4L756.0 239.4L756.5 238.6L757.0 237.7L757.5 236.9L758.0 236.1L758.5 235.4L759.0 234.7L759.5 234.1L760.0 233.5L760.5 233.0L761.0 232.5L761.5 232.1L762.0 231.7L762.5 231.3L763.0 230.9L763.5 230.6L764.0 230.3L764.5 229.9L765.0 229.5L765.5 229.1L766.0 228.7L766.5 228.2L767.0 227.8L767.5 227.2L768.0 226.6L768.5 225.9L769.0 225.1L769.5 224.2L770.0 223.3L770.5 222.4L771.0 221.6L771.5 220.7L772.0 219.7L772.5 218.8L773.0 218.1L773.5 217.4L774.0 216.7L774.5 216.2L775.0 215.7L775.5 215.3L776.0 214.9L776.5 214.6L777.0 214.2L777.5 214.0L778.0 213.7L778.5 213.4L779.0 213.2L779.5 213.0L780.0 212.8L780.5 212.6L781.0 212.5L781.5 212.3L782.0 212.2L782.5 212.2L783.0 212.1L783.5 212.1L784.0 212.1L784.5 212.2L785.0 212.3L785.5 212.2L786.0 212.1L786.5 212.0L787.0 211.8L787.5 211.6L788.0 211.3L788.5 211.0L789.0 210.7L789.5 210.4L790.0 210.1L790.5 209.8L791.0 209.4L791.5 209.0L792.0 208.5L792.5 208.1L793.0 207.6L793.5 207.1L794.0 206.7L794.5 206.2L795.0 205.8L795.5 205.5L796.0 205.2L796.5 205.0L797.0 204.9L797.5 204.8L798.0 204.8L798.5 204.9L799.0 205.0L799.5 205.1L800.0 205.1L800.5 205.2L801.0 205.2L801.5 205.2L802.0 205.2L802.5 205.2L803.0 205.2L803.5 205.2L804.0 205.1L804.5 205.0L805.0 205.0L805.5 204.8L806.0 204.7L806.5 204.5L807.0 204.2L807.5 204.0L808.0 203.7L808.5 203.3L809.0 203.0L809.5 202.7L810.0 202.4L810.5 202.2L811.0 202.0L811.5 201.9L812.0 201.8L812.5 201.7L813.0 201.7L813.5 201.8L814.0 201.8L814.5 201.9L815.0 202.0L815.5 202.2L816.0 202.2L816.5 202.3L817.0 202.3L817.5 202.3L818.0 202.2L818.5 202.1L819.0 202.0L819.5 201.8L820.0 201.6L820.5 201.4L821.0 201.3L821.5 201.1L822.0 200.9L822.5 200.7L823.0 200.6L823.5 200.5L824.0 200.4L824.5 200.3L825.0 200.3L825.5 200.2L826.0 200.1L826.5 200.0L827.0 199.9L827.5 199.9L828.0 199.8L828.5 199.8L829.0 199.8L829.5 199.7L830.0 199.6L830.5 199.5L831.0 199.6L831.5 199.6L832.0 199.6L832.5 199.7L833.0 199.8L833.5 200.0L834.0 200.3L834.5 200.5L835.0 200.8L835.5 201.1L836.0 201.4L836.5 201.8L837.0 202.1L837.5 202.4L838.0 202.7L838.5 203.0L839.0 203.2L839.5 203.5L840.0 203.6L840.5 203.7L841.0 203.8L841.5 203.8L842.0 203.8L842.5 203.8L843.0 203.8L843.5 203.7L844.0 203.6L844.5 203.5L845.0 203.4L845.5 203.3L846.0 203.2L846.5 203.1L847.0 202.9L847.5 202.8L848.0 202.7L848.5 202.5L849.0 202.4L849.5 202.2L850.0 202.1L850.5 201.9L851.0 201.8L851.5 201.7L852.0 201.5L852.5 201.5L853.0 201.4L853.5 201.3L854.0 201.3L854.5 201.2L855.0 201.2L855.5 201.2L856.0 201.1L856.5 201.0L857.0 201.0L857.5 200.9L858.0 200.8L858.5 200.7L859.0 200.5L859.5 200.4L860.0 200.2L860.5 200.1L861.0 199.9L861.5 199.7L862.0 199.5L862.5 199.3L863.0 199.1L863.5 198.9L864.0 198.8L864.5 198.6L865.0 198.5L865.5 198.3L866.0 198.1L866.5 197.9L867.0 197.6L867.5 197.4L868.0 197.0L868.5 196.6L869.0 196.2L869.5 195.8L870.0 195.4L870.5 194.9L871.0 194.3L871.5 193.8L872.0 193.1L872.5 192.5L873.0 191.9L873.5 191.2L874.0 190.4L874.5 189.7L875.0 188.9L875.5 188.2L876.0 187.4L876.5 186.6L877.0 185.8L877.5 185.0L878.0 184.2L878.5 183.3L879.0 182.4L879.5 181.4L880.0 180.5L880.5 179.5L881.0 178.4L881.5 177.4L882.0 176.3L882.5 175.3L883.0 174.3L883.5 173.2L884.0 172.2L884.5 171.1L885.0 170.1L885.5 169.2L886.0 168.3L886.5 167.4L887.0 166.4L887.5 165.3L888.0 164.2L888.5 163.1" stroke="#ff8c32" />
<path d="M92.5 568.8L93.0 568.9L93.5 569.1L94.0 569.3L94.5 569.5L95.0 569.7L95.5 569.9L96.0 570.1L96.5 570.3L97.0 570.6L97.5 570.8L98.0 571.1L98.5 571.4L99.0 571.7L99.5 572.0L100.0 572.4L100.5 572.7L101.0 573.0L101.5 573.3L102.0 573.7L102.5 574.0L103.0 574.3L103.5 574.6L104.0 574.9L104.5 575.2L105.0 575.4L105.5 575.7L106.0 575.9L106.5 576.1L107.0 576.3L107.5 576.5L108.0 576.6L108.5 576.8L109.0 576.9L109.5 577.1L110.0 577.2L110.5 577.3L111.0 577.5L111.5 577.7L112.0 577.8L112.5 577.9L113.0 578.1L113.5 578.2L114.0 578.4L114.5 578.5L115.0 578.5L115.5 578.6L116.0 578.7L116.5 578.7L117.0 578.7L117.5 578.6L118.0 578.6L118.5 578.4L119.0 578.3L119.5 578.1L120.0 577.9L120.5 577.7L121.0 577.4L121.5 577.0L122.0 576.6L122.5 576.3L123.0 575.9L123.5 575.5L124.0 575.2L124.5 574.8L125.0 574.4L125.5 574.0L126.0 573.7L126.5 573.3L127.0 573.0L127.5 572.6L128.0 572.3L128.5 571.9L129.0 571.6L129.5 571.3L130.0 571.0L130.5 570.7L131.0 570.5L131.5 570.2L132.0 570.0L132.5 569.9L133.0 569.7L133.5 569.5L134.0 569.4L134.5 569.2L135.0 569.0L135.5 568.9L136.0 568.8L136.5 568.7L137.0 568.6L137.5 568.5L138.0 568.5L138.5 568.5L139.0 568.5L139.5 568.5L140.0 568.6L140.5 568.7L141.0 568.8L141.5 568.9L142.0 569.1L142.5 569.3L143.0 569.6L143.5 569.8L144.0 570.1L144.5 570.4L145.0 570.8L145.5 571.1L146.0 571.5L146.5 571.8L147.0 572.2L147.5 572.5L148.0 572.9L148.5 573.3L149.0 573.8L149.5 574.2L150.0 574.7L150.5 575.1L151.0 575.6L151.5 576.1L152.0 576.6L152.5 577.0L153.0 577.5L153.5 577.9L154.0 578.3L154.5 578.7L155.0 579.0L155.5 579.3L156.0 579.6L156.5 579.8L157.0 580.0L157.5 580.3L158.0 580.5L158.5 580.7L159.0 580.8L159.5 581.0L160.0 581.1L160.5 581.2L161.0 581.2L161.5 581.3L162.0 581.3L162.5 581.3L163.0 581.3L163.5 581.2L164.0 581.1L164.5 581.1L165.0 581.0L165.5 580.9L166.0 580.8L166.5 580.7L167.0 580.7L167.5 580.7L168.0 580.6L168.5 580.5L169.0 580.5L169.5 580.4L170.0 580.3L170.5 580.2L171.0 580.0L171.5 579.9L172.0 579.8L172.5 579.7L173.0 579.6L173.5 579.5L174.0 579.3L174.5 579.2L175.0 579.1L175.5 579.0L176.0 578.9L176.5 578.7L177.0 578.6L177.5 578.5L178.0 578.4L178.5 578.3L179.0 578.2L179.5 578.1L180.0 578.1L180.5 578.0L181.0 578.0L181.5 577.9L182.0 577.9L182.5 577.8L183.0 577.8L183.5 577.8L184.0 577.8L184.5 577.9L185.0 577.9L185.5 578.0L186.0 578.1L186.5 578.3L187.0 578.4L187.5 578.6L188.0 578.8L188.5 578.9L189.0 579.1L189.5 579.3L190.0 579.5L190.5 579.8L191.0 580.1L191.5 580.4L192.0 580.8L192.5 581.2L193.0 581.7L193.5 582.2L194.0 582.7L194.5 583.3L195.0 583.9L195.5 584.4L196.0 585.0L196.5 585.6L197.0 586.1L197.5 586.6L198.0 587.2L198.5 587.7L199.0 588.2L199.5 588.8L200.0 589.3L200.5 589.7L201.0 590.2L201.5 590.6L202.0 591.0L202.5 591.4L203.0 591.7L203.5 592.1L204.0 592.4L204.5 592.7L205.0 592.9L205.5 593.1L206.0 593.2L206.5 593.2L207.0 593.2L207.5 593.2L208.0 593.1L208.5 593.0L209.0 592.9L209.5 592.7L210.0 592.4L210.5 592.2L211.0 591.8L211.5 591.5L212.0 591.2L212.5 590.7L213.0 590.2L213.5 589.7L214.0 589.2L214.5 588.6L215.0 587.9L215.5 587.1L216.0 586.3L216.5 585.6L217.0 584.7L217.5 583.8L218.0 582.9L218.5 581.9L219.0 581.0L219.5 580.0L220.0 579.1L220.5 578.1L221.0 577.2L221.5 576.2L222.0 575.2L222.5 574.3L223.0 573.5L223.5 572.6L224.0 571.9L224.5 571.1L225.0 570.4L225.5 569.7L226.0 569.0L226.5 568.4L227.0 567.7L227.5 567.2L228.0 566.7L228.5 566.2L229.0 565.8L229.5 565.5L230.0 565.2L230.5 565.0L231.0 564.9L231.5 564.7L232.0 564.6L232.5 564.6L233.0 564.6L233.5 564.6L234.0 564.8L234.5 564.9L235.0 565.1L235.5 565.2L236.0 565.3L236.5 565.4L237.0 565.5L237.5 565.6L238.0 565.7L238.5 565.8L239.0 565.9L239.5 565.9L240.0 566.0L240.5 566.0L241.0 566.0L241.5 566.0L242.0 566.0L242.5 566.0L243.0 566.0L243.5 565.9L244.0 565.9L244.5 565.9L245.0 565.9L245.5 565.8L246.0 565.8L246.5 565.6L247.0 565.4L247.5 565.3L248.0 565.1L248.5 564.9L249.0 564.7L249.5 564.4L250.0 564.1L250.5 563.9L251.0 563.6L251.5 563.2L252.0 562.9L252.5 562.5L253.0 562.1L253.5 561.7L254.0 561.3L254.5 560.8L255.0 560.4L255.5 560.0L256.0 559.6L256.5 559.2L257.0 558.7L257.5 558.2L258.0 557.8L258.5 557.4L259.0 557.1L259.5 556.8L260.0 556.5L260.5 556.2L261.0 556.0L261.5 555.8L262.0 555.6L262.5 555.5L263.0 555.4L263.5 555.4L264.0 555.3L264.5 555.3L265.0 555.2L265.5 555.1L266.0 555.1L266.5 555.0L267.0 554.9L267.5 554.8L268.0 554.7L268.5 554.6L269.0 554.5L269.5 554.4L270.0 554.3L270.5 554.2L271.0 554.1L271.5 554.0L272.0 553.9L272.5 553.9L273.0 553.8L273.5 553.7L274.0 553.6L274.5 553.5L275.0 553.4L275.5 553.3L276.0 553.1L276.5 553.0L277.0 552.8L277.5 552.6L278.0 552.4L278.5 552.1L279.0 551.8L279.5 551.6L280.0 551.3L280.5 551.1L281.0 550.9L281.5 550.6L282.0 550.4L282.5 550.1L283.0 549.8L283.5 549.6L284.0 549.3L284.5 549.1L285.0 548.8L285.5 548.5L286.0 548.2L286.5 547.9L287.0 547.6L287.5 547.4L288.0 547.2L288.5 547.1L289.0 546.9L289.5 546.8L290.0 546.7L290.5 546.6L291.0 546.6L291.5 546.5L292.0 546.5L292.5 546.5L293.0 546.6L293.5 546.6L294.0 546.7L294.5 546.8L295.0 546.9L295.5 547.1L296.0 547.2L296.5 547.4L297.0 547.6L297.5 547.9L298.0 548.1L298.5 548.3L299.0 548.6L299.5 548.8L300.0 549.1L300.5 549.3L301.0 549.6L301.5 549.8L302.0 550.0L302.5 550.2L303.0 550.3L303.5 550.5L304.0 550.6L304.5 550.7L305.0 550.8L305.5 551.0L306.0 551.1L306.5 551.1L307.0 551.1L307.5 551.1L308.0 551.2L308.5 551.2L309.0 551.2L309.5 551.2L310.0 551.2L310.5 551.0L311.0 550.9L311.5 550.8L312.0 550.7L312.5 550.7L313.0 550.6L313.5 550.6L314.0 550.5L314.5 550.5L315.0 550.5L315.5 550.5L316.0 550.4L316.5 550.4L317.0 550.4L317.5 550.4L318.0 550.4L318.5 550.4L319.0 550.4L319.5 550.4L320.0 550.4L320.5 550.5L321.0 550.6L321.5 550.7L322.0 550.8L322.5 551.0L323.0 551.2L323.5 551.4L324.0 551.6L324.5 551.8L325.0 552.0L325.5 552.1L326.0 552.2L326.5 552.4L327.0 552.5L327.5 552.7L328.0 552.7L328.5 552.8L329.0 552.9L329.5 553.0L330.0 553.1L330.5 553.2L331.0 553.3L331.5 553.4L332.0 553.5L332.5 553.7L333.0 553.8L333.5 554.0L334.0 554.2L334.5 554.3L335.0 554.5L335.5 554.6L336.0 554.7L336.5 554.7L337.0 554.8L337.5 554.9L338.0 554.9L338.5 554.9L339.0 554.9L339.5 554.8L340.0 554.5L340.5 554.2L341.0 553.8L341.5 553.2L342.0 552.6L342.5 552.0L343.0 551.2L343.5 550.4L344.0 549.6L344.5 548.7L345.0 547.8L345.5 546.7L346.0 545.6L346.5 544.6L347.0 543.6L347.5 542.5L348.0 541.5L348.5 540.5L349.0 539.6L349.5 538.6L350.0 537.7L350.5 536.8L351.0 536.0L351.5 535.2L352.0 534.3L352.5 533.5L353.0 532.7L353.5 531.9L354.0 531.0L354.5 530.1L355.0 529.2L355.5 528.3L356.0 527.4L356.5 526.5L357.0 525.6L357.5 524.7L358.0 523.9L358.5 523.0L359.0 522.1L359.5 521.2L360.0 520.3L360.5 519.4L361.0 518.5L361.5 517.6L362.0 516.7L362.5 516.0L363.0 515.2L363.5 514.5L364.0 514.0L364.5 513.4L365.0 512.9L365.5 512.3L366.0 511.8L366.5 511.3L367.0 510.8L367.5 510.2L368.0 509.7L368.5 509.1L369.0 508.6L369.5 507.9L370.0 507.3L370.5 506.6L371.0 505.8L371.5 505.1L372.0 504.2L372.5 503.3L373.0 502.3L373.5 501.3L374.0 500.2L374.5 499.1L375.0 498.0L375.5 496.9L376.0 495.7L376.5 494.6L377.0 493.5L377.5 492.4L378.0 491.3L378.5 490.1L379.0 489.0L379.5 487.8L380.0 486.7L380.5 485.5L381.0 484.3L381.5 483.1L382.0 481.9L382.5 480.7L383.0 479.5L383.5 478.2L384.0 477.0L384.5 475.8L385.0 474.6L385.5 473.4L386.0 472.4L386.5 471.4L387.0 470.5L387.5 469.7L388.0 469.1L388.5 468.5L389.0 468.0L389.5 467.5L390.0 467.1L390.5 466.7L391.0 466.4L391.5 466.1L392.0 465.8L392.5 465.6L393.0 465.4L393.5 465.2L394.0 465.1L394.5 465.0L395.0 465.0L395.5 465.1L396.0 465.3L396.5 465.5L397.0 465.8L397.5 466.1L398.0 466.4L398.5 466.7L399.0 467.1L399.5 467.4L400.0 467.7L400.5 468.0L401.0 468.3L401.5 468.7L402.0 469.0L402.5 469.3L403.0 469.6L403.5 469.9L404.0 470.2L404.5 470.5L405.0 470.8L405.5 471.1L406.0 471.3L406.5 471.5L407.0 471.8L407.5 472.0L408.0 472.2L408.5 472.3L409.0 472.3L409.5 472.2L410.0 472.0L410.5 471.7L411.0 471.2L411.5 470.7L412.0 470.2L412.5 469.7L413.0 469.2L413.5 468.7L414.0 468.1L414.5 467.5L415.0 466.9L415.5 466.3L416.0 465.8L416.5 465.3L417.0 464.8L417.5 464.4L418.0 463.9L418.5 463.5L419.0 463.2L419.5 463.0L420.0 462.8L420.5 462.6L421.0 462.4L421.5 462.2L422.0 462.0L422.5 461.8L423.0 461.7L423.5 461.6L424.0 461.4L424.5 461.3L425.0 461.2L425.5 461.1L426.0 461.0L426.5 461.0L427.0 461.0L427.5 461.0L428.0 461.0L428.5 461.1L429.0 461.3L429.5 461.4L430.0 461.5L430.5 461.6L431.0 461.6L431.5 461.8L432.0 461.9L432.5 462.0L433.0 462.3L433.5 462.6L434.0 463.0L434.5 463.6L435.0 464.1L435.5 464.7L436.0 465.3L436.5 465.9L437.0 466.5L437.5 467.2L438.0 467.8L438.5 468.4L439.0 468.9L439.5 469.4L440.0 469.9L440.5 470.3L441.0 470.6L441.5 470.8L442.0 470.9L442.5 470.9L443.0 471.0L443.5 471.0L444.0 471.0L444.5 471.0L445.0 471.1L445.5 471.1L446.0 471.1L446.5 471.2L447.0 471.2L447.5 471.3L448.0 471.4L448.5 471.5L449.0 471.6L449.5 471.7L450.0 471.8L450.5 471.9L451.0 472.1L451.5 472.2L452.0 472.3L452.5 472.5L453.0 472.6L453.5 472.8L454.0 473.0L454.5 473.1L455.0 473.4L455.5 473.5L456.0 473.7L456.5 473.7L457.0 473.7L457.5 473.6L458.0 473.6L458.5 473.5L459.0 473.4L459.5 473.3L460.0 473.1L460.5 473.0L461.0 472.8L461.5 472.6L462.0 472.4L462.5 472.2L463.0 472.0L463.5 471.7L464.0 471.4L464.5 471.1L465.0 470.8L465.5 470.4L466.0 470.1L466.5 469.7L467.0 469.3L467.5 468.9L468.0 468.3L468.5 467.8L469.0 467.2L469.5 466.5L470.0 465.8L470.5 465.1L471.0 464.3L471.5 463.4L472.0 462.5L472.5 461.7L473.0 460.8L473.5 460.0L474.0 459.2L474.5 458.5L475.0 457.9L475.5 457.3L476.0 456.8L476.5 456.4L477.0 455.9L477.5 455.5L478.0 455.1L478.5 454.7L479.0 454.4L479.5 454.1L480.0 453.8L480.5 453.5L481.0 453.2L481.5 452.8L482.0 452.5L482.5 452.1L483.0 451.7L483.5 451.4L484.0 451.1L484.5 450.7L485.0 450.4L485.5 450.1L486.0 449.8L486.5 449.6L487.0 449.3L487.5 449.0L488.0 448.6L488.5 448.3L489.0 448.1L489.5 447.9L490.0 447.9L490.5 448.0L491.0 448.2L491.5 448.4L492.0 448.6L492.5 448.8L493.0 449.1L493.5 449.3L494.0 449.7L494.5 450.1L495.0 450.4L495.5 450.6L496.0 450.8L496.5 450.9L497.0 450.9L497.5 450.8L498.0 450.7L498.5 450.5L499.0 450.2L499.5 449.8L500.0 449.4L500.5 449.0L501.0 448.6L501.5 448.1L502.0 447.5L502.5 446.9L503.0 446.3L503.5 445.6L504.0 444.9L504.5 444.3L505.0 443.7L505.5 443.1L506.0 442.5L506.5 441.9L507.0 441.3L507.5 440.7L508.0 440.1L508.5 439.6L509.0 439.0L509.5 438.5L510.0 438.0L510.5 437.6L511.0 437.3L511.5 436.8L512.0 436.3L512.5 435.8L513.0 435.1L513.5 434.4L514.0 433.7L514.5 433.2L515.0 432.6L515.5 432.0L516.0 431.4L516.5 430.9L517.0 430.4L517.5 430.0L518.0 429.5L518.5 429.1L519.0 428.7L519.5 428.3L520.0 428.0L520.5 427.7L521.0 427.3L521.5 427.0L522.0 426.8L522.5 426.5L523.0 426.3L523.5 426.0L524.0 425.8L524.5 425.5L525.0 425.3L525.5 425.2L526.0 425.0L526.5 424.8L527.0 424.6L527.5 424.4L528.0 424.1L528.5 423.8L529.0 423.5L529.5 423.3L530.0 422.9L530.5 422.6L531.0 422.2L531.5 421.7L532.0 421.3L532.5 420.9L533.0 420.4L533.5 420.0L534.0 419.6L534.5 419.1L535.0 418.6L535.5 418.1L536.0 417.7L536.5 417.1L537.0 416.5L537.5 415.8L538.0 415.1L538.5 414.4L539.0 413.6L539.5 412.7L540.0 411.8L540.5 410.8L541.0 409.8L541.5 408.9L542.0 407.9L542.5 406.9L543.0 406.0L543.5 405.1L544.0 404.2L544.5 403.4L545.0 402.5L545.5 401.7L546.0 400.8L546.5 400.0L547.0 399.2L547.5 398.4L548.0 397.6L548.5 396.9L549.0 396.1L549.5 395.4L550.0 394.7L550.5 394.2L551.0 393.6L551.5 393.2L552.0 392.7L552.5 392.4L553.0 392.0L553.5 391.8L554.0 391.6L554.5 391.4L555.0 391.2L555.5 391.0L556.0 390.7L556.5 390.4L557.0 390.0L557.5 389.7L558.0 389.3L558.5 389.0L559.0 388.6L559.5 388.4L560.0 388.1L560.5 387.9L561.0 387.7L561.5 387.4L562.0 387.2L562.5 387.0L563.0 386.8L563.5 386.7L564.0 386.4L564.5 386.1L565.0 385.8L565.5 385.4L566.0 385.0L566.5 384.5L567.0 384.1L567.5 383.7L568.0 383.2L568.5 382.7L569.0 382.2L569.5 381.7L570.0 381.2L570.5 380.7L571.0 380.1L571.5 379.6L572.0 379.1L572.5 378.6L573.0 378.0L573.5 377.2L574.0 376.4L574.5 375.7L575.0 374.9L575.5 374.1L576.0 373.3L576.5 372.5L577.0 371.8L577.5 371.0L578.0 370.3L578.5 369.7L579.0 369.2L579.5 368.8L580.0 368.4L580.5 368.1L581.0 367.9L581.5 367.7L582.0 367.5L582.5 367.5L583.0 367.5L583.5 367.6L584.0 367.7L584.5 367.9L585.0 368.2L585.5 368.5L586.0 369.1L586.5 369.7L587.0 370.4L587.5 371.1L588.0 371.9L588.5 372.7L589.0 373.6L589.5 374.5L590.0 375.4L590.5 376.3L591.0 377.1L591.5 378.0L592.0 378.9L592.5 379.8L593.0 380.6L593.5 381.4L594.0 382.2L594.5 382.9L595.0 383.5L595.5 384.1L596.0 384.7L596.5 385.3L597.0 385.8L597.5 386.2L598.0 386.7L598.5 387.2L599.0 387.8L599.5 388.5L600.0 389.1L600.5 389.8L601.0 390.4L601.5 390.9L602.0 391.4L602.5 391.8L603.0 392.1L603.5 392.4L604.0 392.6L604.5 392.8L605.0 392.9L605.5 393.0L606.0 393.0L606.5 393.0L607.0 393.1L607.5 392.9L608.0 392.7L608.5 392.5L609.0 392.2L609.5 391.9L610.0 391.6L610.5 391.3L611.0 391.0L611.5 390.7L612.0 390.3L612.5 389.8L613.0 389.3L613.5 388.8L614.0 388.2L614.5 387.6L615.0 386.9L615.5 386.2L616.0 385.6L616.5 385.1L617.0 384.6L617.5 384.3L618.0 384.1L618.5 384.0L619.0 384.1L619.5 384.3L620.0 384.6L620.5 385.0L621.0 385.3L621.5 385.6L622.0 385.9L622.5 386.1L623.0 386.4L623.5 386.7L624.0 387.0L624.5 387.3L625.0 387.5L625.5 387.7L626.0 387.9L626.5 388.1L627.0 388.3L627.5 388.6L628.0 388.8L628.5 388.9L629.0 389.1L629.5 389.4L630.0 389.6L630.5 389.8L631.0 390.0L631.5 390.2L632.0 390.3L632.5 390.4L633.0 390.5L633.5 390.6L634.0 390.6L634.5 390.6L635.0 390.6L635.5 390.7L636.0 390.9L636.5 391.1L637.0 391.3L637.5 391.7L638.0 392.0L638.5 392.3L639.0 392.6L639.5 392.8L640.0 392.9L640.5 392.9L641.0 392.9L641.5 392.9L642.0 392.8L642.5 392.6L643.0 392.3L643.5 391.8L644.0 391.4L644.5 390.8L645.0 390.1L645.5 389.5L646.0 388.8L646.5 388.2L647.0 387.6L647.5 387.1L648.0 386.4L648.5 385.9L649.0 385.2L649.5 384.6L650.0 384.0L650.5 383.3L651.0 382.7L651.5 382.0L652.0 381.3L652.5 380.7L653.0 380.0L653.5 379.4L654.0 378.7L654.5 378.0L655.0 377.3L655.5 376.5L656.0 375.9L656.5 375.1L657.0 374.4L657.5 373.8L658.0 373.1L658.5 372.4L659.0 371.7L659.5 371.1L660.0 370.3L660.5 369.6L661.0 369.0L661.5 368.3L662.0 367.5L662.5 366.8L663.0 366.0L663.5 365.3L664.0 364.4L664.5 363.5L665.0 362.5L665.5 361.6L666.0 360.6L666.5 359.7L667.0 358.9L667.5 358.1L668.0 357.2L668.5 356.2L669.0 355.2L669.5 354.0L670.0 352.8L670.5 351.7L671.0 350.6L671.5 349.5L672.0 348.4L672.5 347.4L673.0 346.3L673.5 345.3L674.0 344.2L674.5 343.2L675.0 342.1L675.5 341.1L676.0 340.1L676.5 339.0L677.0 338.1L677.5 337.2L678.0 336.3L678.5 335.4L679.0 334.5L679.5 333.5L680.0 332.6L680.5 331.6L681.0 330.6L681.5 329.6L682.0 328.6L682.5 327.6L683.0 326.7L683.5 325.7L684.0 324.8L684.5 324.0L685.0 323.2L685.5 322.5L686.0 321.8L686.5 321.3L687.0 320.9L687.5 320.5L688.0 320.2L688.5 320.0L689.0 319.8L689.5 319.6L690.0 319.5L690.5 319.4L691.0 319.3L691.5 319.3L692.0 319.3L692.5 319.4L693.0 319.4L693.5 319.4L694.0 319.4L694.5 319.5L695.0 319.5L695.5 319.5L696.0 319.4L696.5 319.4L697.0 319.4L697.5 319.3L698.0 319.3L698.5 319.2L699.0 319.2L699.5 319.2L700.0 319.2L700.5 319.1L701.0 319.0L701.5 319.0L702.0 318.9L702.5 318.6L703.0 318.3L703.5 318.0L704.0 317.6L704.5 317.3L705.0 316.8L705.5 316.5L706.0 316.0L706.5 315.5L707.0 315.0L707.5 314.4L708.0 313.8L708.5 313.2L709.0 312.4L709.5 311.7L710.0 310.9L710.5 310.2L711.0 309.5L711.5 308.7L712.0 307.9L712.5 307.0L713.0 306.0L713.5 305.1L714.0 304.1L714.5 303.0L715.0 301.9L715.5 300.9L716.0 299.9L716.5 298.8L717.0 297.8L717.5 296.7L718.0 295.5L718.5 294.3L719.0 293.0L719.5 291.8L720.0 290.5L720.5 289.2L721.0 287.9L721.5 286.6L722.0 285.2L722.5 284.0L723.0 282.9L723.5 282.0L724.0 281.1L724.5 280.4L725.0 279.9L725.5 279.5L726.0 279.3L726.5 279.2L727.0 279.1L727.5 278.9L728.0 278.6L728.5 278.2L729.0 277.6L729.5 277.0L730.0 276.3L730.5 275.6L731.0 274.6L731.5 273.6L732.0 272.5L732.5 271.2L733.0 269.8L733.5 268.4L734.0 267.0L734.5 265.5L735.0 263.9L735.5 262.2L736.0 260.6L736.5 258.9L737.0 257.1L737.5 255.3L738.0 253.5L738.5 251.7L739.0 249.8L739.5 248.0L740.0 246.4L740.5 244.9L741.0 243.5L741.5 242.3L742.0 241.1L742.5 240.1L743.0 239.1L743.5 238.0L744.0 237.1L744.5 236.2L745.0 235.2L745.5 234.2L746.0 233.1L746.5 231.9L747.0 230.8L747.5 229.6L748.0 228.4L748.5 227.1L749.0 225.8L749.5 224.3L750.0 222.8L750.5 221.4L751.0 220.0L751.5 218.6L752.0 217.3L752.5 216.0L753.0 214.7L753.5 213.5L754.0 212.4L754.5 211.5L755.0 210.8L755.5 210.2L756.0 209.8L756.5 209.5L757.0 209.2L757.5 209.1L758.0 209.2L758.5 209.4L759.0 209.8L759.5 210.2L760.0 210.9L760.5 211.6L761.0 212.4L761.5 213.3L762.0 214.4L762.5 215.4L763.0 216.3L763.5 217.0L764.0 217.7L764.5 218.1L765.0 218.4L765.5 218.7L766.0 218.9L766.5 218.9L767.0 218.9L767.5 218.8L768.0 218.5L768.5 218.2L769.0 217.7L769.5 217.1L770.0 216.5L770.5 215.9L771.0 215.4L771.5 214.8L772.0 214.4L772.5 214.1L773.0 214.0L773.5 214.0L774.0 214.1L774.5 214.5L775.0 214.8L775.5 215.2L776.0 215.7L776.5 216.2L777.0 216.5L777.5 216.8L778.0 216.9L778.5 216.9L779.0 216.8L779.5 216.6L780.0 216.4L780.5 216.0L781.0 215.6L781.5 215.1L782.0 214.4L782.5 213.7L783.0 213.0L783.5 212.3L784.0 211.5L784.5 210.6L785.0 209.6L785.5 208.6L786.0 207.5L786.5 206.6L787.0 205.7L787.5 204.9L788.0 204.0L788.5 203.2L789.0 202.5L789.5 201.9L790.0 201.3L790.5 200.9L791.0 200.5L791.5 200.0L792.0 199.7L792.5 199.4L793.0 199.0L793.5 198.6L794.0 198.2L794.5 197.8L795.0 197.4L795.5 197.0L796.0 196.5L796.5 196.0L797.0 195.5L797.5 195.0L798.0 194.6L798.5 194.3L799.0 194.0L799.5 193.7L800.0 193.6L800.5 193.5L801.0 193.5L801.5 193.5L802.0 193.7L802.5 193.8L803.0 194.2L803.5 194.5L804.0 194.9L804.5 195.3L805.0 195.8L805.5 196.3L806.0 196.7L806.5 197.1L807.0 197.4L807.5 197.8L808.0 198.2L808.5 198.6L809.0 199.0L809.5 199.2L810.0 199.6L810.5 200.0L811.0 200.5L811.5 200.9L812.0 201.3L812.5 201.8L813.0 202.3L813.5 202.8L814.0 203.4L814.5 204.0L815.0 204.5L815.5 205.1L816.0 205.6L816.5 206.1L817.0 206.6L817.5 207.0L818.0 207.3L818.5 207.6L819.0 207.7L819.5 207.9L820.0 208.0L820.5 208.1L821.0 208.1L821.5 208.0L822.0 207.9L822.5 207.7L823.0 207.6L823.5 207.5L824.0 207.3L824.5 207.0L825.0 206.8L825.5 206.3L826.0 205.9L826.5 205.4L827.0 204.7L827.5 204.1L828.0 203.6L828.5 203.1L829.0 202.6L829.5 202.1L830.0 201.6L830.5 201.1L831.0 200.7L831.5 200.4L832.0 200.2L832.5 200.0L833.0 199.9L833.5 199.9L834.0 199.9L834.5 199.9L835.0 200.0L835.5 200.2L836.0 200.3L836.5 200.4L837.0 200.5L837.5 200.6L838.0 200.6L838.5 200.6L839.0 200.6L839.5 200.5L840.0 200.4L840.5 200.3L841.0 200.1L841.5 200.0L842.0 199.8L842.5 199.7L843.0 199.6L843.5 199.4L844.0 199.3L844.5 199.1L845.0 199.0L845.5 198.9L846.0 198.8L846.5 198.8L847.0 198.7L847.5 198.7L848.0 198.8L848.5 198.9L849.0 199.1L849.5 199.4L850.0 199.7L850.5 199.9L851.0 200.2L851.5 200.4L852.0 200.7L852.5 201.1L853.0 201.5L853.5 201.8L854.0 202.0L854.5 202.2L855.0 202.3L855.5 202.4L856.0 202.3L856.5 202.2L857.0 202.1L857.5 201.9L858.0 201.5L858.5 201.1L859.0 200.7L859.5 200.3L860.0 199.9L860.5 199.6L861.0 199.2L861.5 198.8L862.0 198.4L862.5 198.1L863.0 197.9L863.5 197.7L864.0 197.5L864.5 197.3L865.0 197.2L865.5 197.0L866.0 196.7L866.5 196.4L867.0 196.1L867.5 195.7L868.0 195.1L868.5 194.4L869.0 193.7L869.5 192.9L870.0 192.0L870.5 190.9L871.0 189.7L871.5 188.5L872.0 187.1L872.5 185.5L873.0 183.9L873.5 182.3L874.0 180.6L874.5 178.8L875.0 176.9L875.5 175.0L876.0 173.2L876.5 171.3L877.0 169.5L877.5 167.7L878.0 165.9L878.5 164.2L879.0 162.5L879.5 160.7L880.0 159.0L880.5 157.3L881.0 155.5L881.5 153.9L882.0 152.1L882.5 150.5L883.0 148.7L883.5 147.1L884.0 145.3L884.5 143.6L885.0 142.0L885.5 140.4L886.0 138.8L886.5 137.1L887.0 135.3L887.5 133.4L888.0 131.3L888.5 129.3" stroke="#33b1ec" />
<path d="M92.5 570.4L93.0 570.6L93.5 570.8L94.0 571.0L94.5 571.2L95.0 571.5L95.5 571.7L96.0 572.1L96.5 572.3L97.0 572.7L97.5 573.1L98.0 573.5L98.5 573.9L99.0 574.4L99.5 574.9L100.0 575.5L100.5 576.0L101.0 576.5L101.5 577.0L102.0 577.6L102.5 578.1L103.0 578.6L103.5 579.0L104.0 579.4L104.5 579.8L105.0 580.1L105.5 580.5L106.0 580.6L106.5 580.8L107.0 580.9L107.5 580.9L108.0 580.9L108.5 580.8L109.0 580.8L109.5 580.6L110.0 580.3L110.5 580.1L111.0 579.9L111.5 579.7L112.0 579.5L112.5 579.3L113.0 579.1L113.5 578.8L114.0 578.5L114.5 578.2L115.0 578.0L115.5 577.8L116.0 577.4L116.5 577.2L117.0 576.9L117.5 576.7L118.0 576.4L118.5 576.0L119.0 575.6L119.5 575.3L120.0 574.9L120.5 574.6L121.0 574.2L121.5 573.7L122.0 573.1L122.5 572.5L123.0 572.0L123.5 571.5L124.0 571.0L124.5 570.5L125.0 570.0L125.5 569.5L126.0 569.1L126.5 568.6L127.0 568.1L127.5 567.8L128.0 567.3L128.5 566.9L129.0 566.6L129.5 566.3L130.0 566.1L130.5 565.8L131.0 565.7L131.5 565.6L132.0 565.5L132.5 565.6L133.0 565.8L133.5 566.1L134.0 566.3L134.5 566.5L135.0 566.7L135.5 566.9L136.0 567.1L136.5 567.4L137.0 567.6L137.5 568.0L138.0 568.5L138.5 568.9L139.0 569.3L139.5 569.9L140.0 570.3L140.5 570.8L141.0 571.4L141.5 571.9L142.0 572.5L142.5 573.0L143.0 573.6L143.5 574.1L144.0 574.6L144.5 575.0L145.0 575.5L145.5 575.9L146.0 576.4L146.5 577.0L147.0 577.4L147.5 577.9L148.0 578.5L148.5 579.0L149.0 579.5L149.5 579.9L150.0 580.4L150.5 580.9L151.0 581.4L151.5 581.9L152.0 582.4L152.5 582.7L153.0 583.1L153.5 583.3L154.0 583.6L154.5 583.8L155.0 583.9L155.5 584.0L156.0 584.1L156.5 584.1L157.0 584.1L157.5 584.0L158.0 584.0L158.5 583.9L159.0 583.6L159.5 583.3L160.0 583.1L160.5 582.8L161.0 582.5L161.5 582.1L162.0 581.6L162.5 581.1L163.0 580.5L163.5 580.0L164.0 579.5L164.5 579.1L165.0 578.6L165.5 578.1L166.0 577.8L166.5 577.5L167.0 577.3L167.5 577.2L168.0 577.1L168.5 577.0L169.0 576.8L169.5 576.8L170.0 576.7L170.5 576.7L171.0 576.7L171.5 576.7L172.0 576.8L172.5 577.0L173.0 577.2L173.5 577.4L174.0 577.6L174.5 577.9L175.0 578.3L175.5 578.6L176.0 578.8L176.5 579.0L177.0 579.1L177.5 579.3L178.0 579.3L178.5 579.2L179.0 579.2L179.5 579.2L180.0 579.2L180.5 579.2L181.0 579.1L181.5 579.1L182.0 579.0L182.5 579.0L183.0 578.9L183.5 578.7L184.0 578.6L184.5 578.5L185.0 578.4L185.5 578.4L186.0 578.3L186.5 578.2L187.0 578.3L187.5 578.4L188.0 578.5L188.5 578.7L189.0 579.0L189.5 579.3L190.0 579.9L190.5 580.5L191.0 581.0L191.5 581.7L192.0 582.4L192.5 583.4L193.0 584.4L193.5 585.5L194.0 586.6L194.5 587.8L195.0 589.1L195.5 590.4L196.0 591.6L196.5 592.9L197.0 594.1L197.5 595.2L198.0 596.3L198.5 597.3L199.0 598.3L199.5 599.1L200.0 599.9L200.5 600.6L201.0 601.1L201.5 601.4L202.0 601.6L202.5 601.7L203.0 601.7L203.5 601.6L204.0 601.2L204.5 600.8L205.0 600.1L205.5 599.2L206.0 598.2L206.5 597.0L207.0 595.8L207.5 594.5L208.0 593.1L208.5 591.7L209.0 590.3L209.5 588.8L210.0 587.3L210.5 585.8L211.0 584.3L211.5 583.0L212.0 581.6L212.5 580.3L213.0 579.0L213.5 577.7L214.0 576.5L214.5 575.3L215.0 574.1L215.5 573.0L216.0 571.9L216.5 571.0L217.0 570.2L217.5 569.5L218.0 568.8L218.5 568.1L219.0 567.5L219.5 567.1L220.0 566.5L220.5 566.1L221.0 565.7L221.5 565.2L222.0 564.8L222.5 564.4L223.0 564.1L223.5 563.8L224.0 563.5L224.5 563.3L225.0 563.1L225.5 563.0L226.0 562.8L226.5 562.7L227.0 562.6L227.5 562.5L228.0 562.4L228.5 562.3L229.0 562.3L229.5 562.2L230.0 562.3L230.5 562.5L231.0 562.7L231.5 562.9L232.0 563.2L232.5 563.6L233.0 564.1L233.5 564.6L234.0 565.2L234.5 565.9L235.0 566.4L235.5 566.9L236.0 567.3L236.5 567.7L237.0 568.1L237.5 568.5L238.0 568.7L238.5 569.0L239.0 569.3L239.5 569.5L240.0 569.6L240.5 569.7L241.0 569.7L241.5 569.6L242.0 569.4L242.5 569.3L243.0 568.9L243.5 568.5L244.0 568.1L244.5 567.6L245.0 567.0L245.5 566.2L246.0 565.4L246.5 564.7L247.0 563.8L247.5 563.1L248.0 562.3L248.5 561.5L249.0 560.8L249.5 560.0L250.0 559.1L250.5 558.3L251.0 557.6L251.5 556.8L252.0 556.0L252.5 555.2L253.0 554.6L253.5 553.9L254.0 553.3L254.5 552.8L255.0 552.3L255.5 551.9L256.0 551.6L256.5 551.4L257.0 551.2L257.5 551.1L258.0 551.0L258.5 551.1L259.0 551.2L259.5 551.3L260.0 551.5L260.5 551.8L261.0 552.2L261.5 552.6L262.0 553.0L262.5 553.6L263.0 554.2L263.5 554.9L264.0 555.5L264.5 556.1L265.0 556.7L265.5 557.2L266.0 557.6L266.5 557.9L267.0 558.0L267.5 558.1L268.0 558.1L268.5 558.1L269.0 557.9L269.5 557.7L270.0 557.5L270.5 557.1L271.0 556.8L271.5 556.4L272.0 555.9L272.5 555.4L273.0 554.8L273.5 554.2L274.0 553.4L274.5 552.5L275.0 551.7L275.5 550.8L276.0 549.9L276.5 549.1L277.0 548.3L277.5 547.5L278.0 546.8L278.5 546.2L279.0 545.6L279.5 545.1L280.0 544.6L280.5 544.3L281.0 544.0L281.5 543.8L282.0 543.6L282.5 543.4L283.0 543.3L283.5 543.2L284.0 543.3L284.5 543.4L285.0 543.6L285.5 543.7L286.0 543.9L286.5 544.2L287.0 544.6L287.5 545.1L288.0 545.5L288.5 546.1L289.0 546.5L289.5 546.9L290.0 547.3L290.5 547.7L291.0 548.2L291.5 548.5L292.0 548.9L292.5 549.1L293.0 549.4L293.5 549.7L294.0 550.0L294.5 550.3L295.0 550.6L295.5 550.8L296.0 551.0L296.5 551.3L297.0 551.6L297.5 551.8L298.0 551.9L298.5 552.0L299.0 552.1L299.5 552.1L300.0 552.1L300.5 552.2L301.0 552.2L301.5 552.2L302.0 552.2L302.5 552.1L303.0 552.1L303.5 552.1L304.0 552.1L304.5 552.0L305.0 551.9L305.5 551.9L306.0 551.8L306.5 551.6L307.0 551.4L307.5 551.2L308.0 551.0L308.5 550.8L309.0 550.7L309.5 550.5L310.0 550.2L310.5 550.0L311.0 549.7L311.5 549.4L312.0 549.3L312.5 549.2L313.0 549.1L313.5 549.0L314.0 549.0L314.5 548.9L315.0 548.9L315.5 548.9L316.0 548.9L316.5 548.9L317.0 548.9L317.5 549.0L318.0 549.2L318.5 549.4L319.0 549.6L319.5 549.8L320.0 550.1L320.5 550.4L321.0 550.8L321.5 551.3L322.0 551.8L322.5 552.4L323.0 553.1L323.5 553.7L324.0 554.2L324.5 554.6L325.0 555.0L325.5 555.3L326.0 555.6L326.5 555.9L327.0 556.2L327.5 556.4L328.0 556.6L328.5 556.7L329.0 556.8L329.5 556.9L330.0 556.9L330.5 556.8L331.0 556.8L331.5 556.7L332.0 556.6L332.5 556.5L333.0 556.3L333.5 556.0L334.0 555.8L334.5 555.5L335.0 555.2L335.5 555.0L336.0 554.7L336.5 554.4L337.0 554.3L337.5 554.0L338.0 553.8L338.5 553.6L339.0 553.3L339.5 553.0L340.0 552.4L340.5 551.6L341.0 550.7L341.5 549.6L342.0 548.4L342.5 547.1L343.0 545.7L343.5 544.1L344.0 542.6L344.5 541.1L345.0 539.4L345.5 537.6L346.0 535.6L346.5 533.8L347.0 532.0L347.5 530.2L348.0 528.4L348.5 526.6L349.0 524.8L349.5 523.1L350.0 521.5L350.5 520.1L351.0 518.8L351.5 517.9L352.0 517.0L352.5 516.4L353.0 515.9L353.5 515.5L354.0 515.1L354.5 514.8L355.0 514.4L355.5 514.1L356.0 514.0L356.5 514.0L357.0 514.1L357.5 514.2L358.0 514.2L358.5 514.2L359.0 514.3L359.5 514.3L360.0 514.3L360.5 514.2L361.0 514.0L361.5 513.7L362.0 513.4L362.5 513.0L363.0 512.6L363.5 512.0L364.0 511.5L364.5 510.9L365.0 510.3L365.5 509.6L366.0 508.9L366.5 508.2L367.0 507.3L367.5 506.3L368.0 505.3L368.5 504.1L369.0 502.9L369.5 501.6L370.0 500.2L370.5 498.7L371.0 497.3L371.5 495.7L372.0 494.1L372.5 492.5L373.0 490.8L373.5 489.0L374.0 487.3L374.5 485.5L375.0 483.8L375.5 482.1L376.0 480.4L376.5 478.9L377.0 477.3L377.5 475.8L378.0 474.3L378.5 472.9L379.0 471.6L379.5 470.4L380.0 469.3L380.5 468.2L381.0 467.2L381.5 466.2L382.0 465.2L382.5 464.2L383.0 463.3L383.5 462.5L384.0 461.7L384.5 461.0L385.0 460.3L385.5 459.7L386.0 459.4L386.5 459.2L387.0 459.1L387.5 459.1L388.0 459.4L388.5 459.9L389.0 460.4L389.5 460.9L390.0 461.5L390.5 462.0L391.0 462.5L391.5 463.0L392.0 463.6L392.5 464.2L393.0 464.8L393.5 465.4L394.0 466.1L394.5 466.9L395.0 467.9L395.5 468.8L396.0 469.9L396.5 471.0L397.0 472.0L397.5 472.9L398.0 473.7L398.5 474.4L399.0 474.9L399.5 475.2L400.0 475.4L400.5 475.5L401.0 475.6L401.5 475.7L402.0 475.8L402.5 476.0L403.0 476.0L403.5 476.1L404.0 476.1L404.5 476.2L405.0 476.1L405.5 476.0L406.0 475.6L406.5 475.1L407.0 474.5L407.5 473.8L408.0 473.2L408.5 472.4L409.0 471.5L409.5 470.5L410.0 469.5L410.5 468.3L411.0 467.1L411.5 465.9L412.0 464.8L412.5 463.7L413.0 462.5L413.5 461.4L414.0 460.1L414.5 458.8L415.0 457.6L415.5 456.4L416.0 455.4L416.5 454.5L417.0 453.7L417.5 453.1L418.0 452.8L418.5 452.6L419.0 452.6L419.5 452.8L420.0 453.2L420.5 453.7L421.0 454.4L421.5 455.1L422.0 455.9L422.5 456.8L423.0 457.7L423.5 458.6L424.0 459.4L424.5 460.3L425.0 461.3L425.5 462.4L426.0 463.6L426.5 464.8L427.0 465.9L427.5 466.9L428.0 467.9L428.5 468.8L429.0 469.6L429.5 470.1L430.0 470.4L430.5 470.5L431.0 470.2L431.5 470.1L432.0 469.8L432.5 469.4L433.0 469.2L433.5 469.1L434.0 469.1L434.5 469.2L435.0 469.6L435.5 469.9L436.0 470.1L436.5 470.4L437.0 470.6L437.5 470.6L438.0 470.8L438.5 470.8L439.0 470.9L439.5 471.0L440.0 471.0L440.5 471.0L441.0 471.1L441.5 471.2L442.0 471.4L442.5 471.7L443.0 472.0L443.5 472.3L444.0 472.6L444.5 472.9L445.0 473.0L445.5 473.1L446.0 473.0L446.5 472.7L447.0 472.5L447.5 472.4L448.0 472.3L448.5 472.4L449.0 472.4L449.5 472.5L450.0 472.7L450.5 473.0L451.0 473.2L451.5 473.4L452.0 473.7L452.5 473.9L453.0 474.0L453.5 474.1L454.0 474.2L454.5 474.3L455.0 474.5L455.5 474.5L456.0 474.5L456.5 474.4L457.0 474.3L457.5 474.4L458.0 474.5L458.5 474.5L459.0 474.4L459.5 474.2L460.0 473.9L460.5 473.4L461.0 473.0L461.5 472.4L462.0 471.8L462.5 471.2L463.0 470.4L463.5 469.6L464.0 468.8L464.5 468.1L465.0 467.3L465.5 466.5L466.0 465.8L466.5 464.9L467.0 464.1L467.5 463.2L468.0 462.2L468.5 461.1L469.0 459.8L469.5 458.5L470.0 457.1L470.5 455.7L471.0 454.3L471.5 452.9L472.0 451.6L472.5 450.4L473.0 449.2L473.5 448.1L474.0 447.2L474.5 446.6L475.0 446.2L475.5 445.9L476.0 445.6L476.5 445.4L477.0 445.3L477.5 445.2L478.0 445.3L478.5 445.3L479.0 445.6L479.5 446.1L480.0 446.7L480.5 447.4L481.0 448.1L481.5 448.9L482.0 449.6L482.5 450.3L483.0 451.0L483.5 451.6L484.0 452.1L484.5 452.6L485.0 452.9L485.5 453.0L486.0 453.1L486.5 452.9L487.0 452.7L487.5 452.3L488.0 451.7L488.5 451.1L489.0 450.8L489.5 450.5L490.0 450.3L490.5 450.2L491.0 450.1L491.5 449.8L492.0 449.5L492.5 449.3L493.0 449.2L493.5 449.1L494.0 449.1L494.5 449.1L495.0 449.2L495.5 449.1L496.0 449.1L496.5 449.0L497.0 448.8L497.5 448.7L498.0 448.5L498.5 448.4L499.0 448.3L499.5 448.1L500.0 447.8L500.5 447.3L501.0 446.6L501.5 445.8L502.0 444.7L502.5 443.6L503.0 442.6L503.5 441.6L504.0 440.4L504.5 439.2L505.0 438.1L505.5 436.9L506.0 435.6L506.5 434.4L507.0 433.3L507.5 432.1L508.0 431.2L508.5 430.2L509.0 429.3L509.5 428.4L510.0 427.7L510.5 427.0L511.0 426.4L511.5 425.7L512.0 425.3L512.5 424.9L513.0 424.6L513.5 424.2L514.0 424.0L514.5 423.8L515.0 423.7L515.5 423.8L516.0 423.8L516.5 423.9L517.0 424.1L517.5 424.4L518.0 424.7L518.5 425.1L519.0 425.3L519.5 425.6L520.0 425.9L520.5 426.2L521.0 426.4L521.5 426.5L522.0 426.6L522.5 426.8L523.0 426.8L523.5 426.7L524.0 426.6L524.5 426.5L525.0 426.5L525.5 426.3L526.0 426.1L526.5 425.8L527.0 425.4L527.5 424.9L528.0 424.3L528.5 423.4L529.0 422.6L529.5 421.7L530.0 420.7L530.5 419.6L531.0 418.5L531.5 417.4L532.0 416.3L532.5 415.3L533.0 414.3L533.5 413.2L534.0 412.3L534.5 411.3L535.0 410.4L535.5 409.5L536.0 408.7L536.5 407.6L537.0 406.6L537.5 405.4L538.0 404.3L538.5 403.3L539.0 402.3L539.5 401.2L540.0 400.1L540.5 399.0L541.0 398.0L541.5 397.1L542.0 396.2L542.5 395.4L543.0 394.6L543.5 394.0L544.0 393.2L544.5 392.5L545.0 391.7L545.5 391.0L546.0 390.3L546.5 389.5L547.0 388.8L547.5 388.1L548.0 387.6L548.5 387.2L549.0 386.9L549.5 386.5L550.0 386.2L550.5 386.1L551.0 386.2L551.5 386.4L552.0 386.6L552.5 386.8L553.0 387.2L553.5 387.5L554.0 387.9L554.5 388.2L555.0 388.5L555.5 388.8L556.0 389.1L556.5 389.1L557.0 389.1L557.5 389.1L558.0 389.1L558.5 389.2L559.0 389.2L559.5 389.2L560.0 389.0L560.5 389.0L561.0 388.9L561.5 388.6L562.0 388.2L562.5 387.8L563.0 387.3L563.5 386.6L564.0 385.8L564.5 384.8L565.0 383.8L565.5 382.7L566.0 381.5L566.5 380.3L567.0 379.2L567.5 378.2L568.0 377.3L568.5 376.3L569.0 375.2L569.5 374.2L570.0 373.1L570.5 372.0L571.0 371.0L571.5 370.1L572.0 369.2L572.5 368.3L573.0 367.3L573.5 366.2L574.0 365.1L574.5 364.0L575.0 363.1L575.5 362.4L576.0 361.8L576.5 361.3L577.0 361.0L577.5 360.7L578.0 360.4L578.5 360.2L579.0 360.3L579.5 360.3L580.0 360.7L580.5 361.1L581.0 361.7L581.5 362.4L582.0 363.2L582.5 364.0L583.0 364.9L583.5 366.0L584.0 367.3L584.5 368.7L585.0 370.5L585.5 372.4L586.0 374.4L586.5 376.6L587.0 378.7L587.5 380.7L588.0 382.7L588.5 384.7L589.0 386.7L589.5 388.8L590.0 390.8L590.5 392.6L591.0 394.1L591.5 395.5L592.0 396.8L592.5 397.9L593.0 398.9L593.5 399.7L594.0 400.3L594.5 400.7L595.0 400.9L595.5 400.9L596.0 400.5L596.5 399.8L597.0 398.9L597.5 397.7L598.0 396.5L598.5 395.4L599.0 394.6L599.5 393.9L600.0 393.2L600.5 392.4L601.0 391.5L601.5 390.6L602.0 389.9L602.5 389.3L603.0 388.5L603.5 387.8L604.0 387.1L604.5 386.5L605.0 386.0L605.5 385.6L606.0 385.4L606.5 385.3L607.0 385.4L607.5 385.6L608.0 385.9L608.5 386.5L609.0 387.1L609.5 387.6L610.0 388.0L610.5 388.1L611.0 388.1L611.5 388.2L612.0 388.2L612.5 388.2L613.0 388.0L613.5 387.6L614.0 387.2L614.5 386.6L615.0 386.1L615.5 385.4L616.0 384.8L616.5 384.1L617.0 383.6L617.5 383.2L618.0 382.8L618.5 382.6L619.0 382.5L619.5 382.6L620.0 382.7L620.5 382.8L621.0 382.9L621.5 383.1L622.0 383.6L622.5 384.1L623.0 384.6L623.5 385.1L624.0 385.9L624.5 386.7L625.0 387.6L625.5 388.5L626.0 389.4L626.5 390.5L627.0 391.7L627.5 392.6L628.0 393.7L628.5 394.5L629.0 395.3L629.5 396.1L630.0 396.7L630.5 397.2L631.0 397.5L631.5 397.7L632.0 397.8L632.5 397.8L633.0 397.7L633.5 397.3L634.0 396.8L634.5 396.3L635.0 395.8L635.5 395.3L636.0 394.9L636.5 394.4L637.0 394.1L637.5 393.8L638.0 393.4L638.5 392.9L639.0 392.4L639.5 391.7L640.0 391.1L640.5 390.4L641.0 389.7L641.5 389.0L642.0 388.4L642.5 387.6L643.0 386.8L643.5 385.9L644.0 384.9L644.5 383.9L645.0 382.9L645.5 382.1L646.0 381.3L646.5 380.6L647.0 379.9L647.5 379.2L648.0 378.4L648.5 377.5L649.0 376.6L649.5 375.8L650.0 375.0L650.5 374.2L651.0 373.6L651.5 373.0L652.0 372.3L652.5 371.7L653.0 371.0L653.5 370.3L654.0 369.7L654.5 369.3L655.0 368.8L655.5 368.4L656.0 368.0L656.5 367.4L657.0 366.9L657.5 366.2L658.0 365.5L658.5 364.8L659.0 364.3L659.5 363.7L660.0 363.2L660.5 362.7L661.0 362.1L661.5 361.5L662.0 360.8L662.5 359.9L663.0 359.1L663.5 358.2L664.0 357.1L664.5 356.0L665.0 354.7L665.5 353.3L666.0 351.9L666.5 350.7L667.0 349.5L667.5 348.2L668.0 346.9L668.5 345.5L669.0 344.0L669.5 342.4L670.0 340.7L670.5 339.0L671.0 337.4L671.5 335.7L672.0 334.0L672.5 332.4L673.0 331.0L673.5 329.6L674.0 328.4L674.5 327.1L675.0 326.0L675.5 325.1L676.0 324.3L676.5 323.5L677.0 323.0L677.5 322.5L678.0 322.0L678.5 321.4L679.0 320.8L679.5 320.2L680.0 319.8L680.5 319.3L681.0 318.9L681.5 318.8L682.0 318.4L682.5 318.1L683.0 317.9L683.5 317.6L684.0 317.4L684.5 317.0L685.0 316.9L685.5 316.7L686.0 316.6L686.5 316.7L687.0 316.7L687.5 316.8L688.0 316.9L688.5 317.0L689.0 317.1L689.5 317.3L690.0 317.6L690.5 318.1L691.0 318.4L691.5 319.0L692.0 319.5L692.5 319.9L693.0 320.3L693.5 320.6L694.0 320.9L694.5 321.2L695.0 321.5L695.5 321.8L696.0 321.9L696.5 322.1L697.0 322.1L697.5 322.0L698.0 321.8L698.5 321.6L699.0 321.5L699.5 321.5L700.0 321.3L700.5 321.0L701.0 320.7L701.5 320.2L702.0 319.6L702.5 318.6L703.0 317.4L703.5 316.4L704.0 315.3L704.5 314.2L705.0 313.0L705.5 312.0L706.0 310.7L706.5 309.5L707.0 308.2L707.5 306.8L708.0 305.4L708.5 304.2L709.0 302.8L709.5 301.5L710.0 300.1L710.5 298.7L711.0 297.2L711.5 295.8L712.0 294.5L712.5 293.1L713.0 291.7L713.5 290.6L714.0 289.7L714.5 288.6L715.0 287.5L715.5 286.6L716.0 285.7L716.5 284.6L717.0 283.7L717.5 282.7L718.0 281.7L718.5 280.6L719.0 279.5L719.5 278.2L720.0 276.9L720.5 275.7L721.0 274.4L721.5 273.0L722.0 271.7L722.5 270.6L723.0 269.9L723.5 269.4L724.0 269.1L724.5 269.0L725.0 269.1L725.5 269.4L726.0 270.0L726.5 271.0L727.0 271.7L727.5 272.3L728.0 272.6L728.5 272.9L729.0 272.8L729.5 272.7L730.0 272.4L730.5 272.0L731.0 271.3L731.5 270.5L732.0 269.6L732.5 268.3L733.0 267.0L733.5 265.3L734.0 263.4L734.5 260.9L735.0 258.0L735.5 254.9L736.0 251.6L736.5 248.0L737.0 244.0L737.5 239.7L738.0 235.1L738.5 230.9L739.0 226.7L739.5 222.7L740.0 219.3L740.5 216.5L741.0 214.1L741.5 211.9L742.0 210.2L742.5 208.9L743.0 207.6L743.5 206.7L744.0 206.0L744.5 205.6L745.0 205.3L745.5 205.4L746.0 205.7L746.5 206.4L747.0 207.1L747.5 208.1L748.0 209.4L748.5 210.9L749.0 212.7L749.5 214.0L750.0 215.5L750.5 216.9L751.0 217.8L751.5 218.3L752.0 218.4L752.5 218.2L753.0 217.6L753.5 216.8L754.0 216.0L754.5 215.4L755.0 214.9L755.5 214.3L756.0 213.8L756.5 213.4L757.0 212.8L757.5 212.2L758.0 211.7L758.5 211.3L759.0 211.0L759.5 210.6L760.0 210.3L760.5 210.2L761.0 210.5L761.5 211.0L762.0 211.9L762.5 213.1L763.0 214.5L763.5 216.0L764.0 217.7L764.5 219.2L765.0 220.6L765.5 221.8L766.0 222.7L766.5 223.2L767.0 223.9L767.5 224.0L768.0 223.9L768.5 223.7L769.0 223.3L769.5 222.4L770.0 221.5L770.5 220.7L771.0 219.8L771.5 219.1L772.0 218.2L772.5 217.3L773.0 216.5L773.5 215.5L774.0 214.6L774.5 213.9L775.0 213.0L775.5 212.4L776.0 212.0L776.5 211.6L777.0 211.1L777.5 210.9L778.0 210.5L778.5 210.0L779.0 209.7L779.5 209.5L780.0 209.3L780.5 209.1L781.0 209.1L781.5 208.8L782.0 208.3L782.5 207.8L783.0 207.0L783.5 206.4L784.0 205.6L784.5 204.6L785.0 203.5L785.5 202.3L786.0 200.9L786.5 199.9L787.0 198.7L787.5 197.5L788.0 196.2L788.5 195.1L789.0 194.1L789.5 193.3L790.0 192.7L790.5 192.1L791.0 191.4L791.5 190.9L792.0 190.3L792.5 189.8L793.0 189.4L793.5 189.1L794.0 188.9L794.5 188.7L795.0 188.5L795.5 188.4L796.0 188.5L796.5 188.6L797.0 188.8L797.5 189.1L798.0 189.5L798.5 190.0L799.0 190.6L799.5 191.5L800.0 192.2L800.5 193.0L801.0 193.8L801.5 194.6L802.0 195.5L802.5 196.5L803.0 197.8L803.5 198.9L804.0 200.2L804.5 201.5L805.0 202.7L805.5 203.9L806.0 204.9L806.5 205.8L807.0 206.5L807.5 207.2L808.0 208.0L808.5 208.5L809.0 208.8L809.5 209.0L810.0 209.1L810.5 209.3L811.0 209.4L811.5 209.5L812.0 209.6L812.5 209.8L813.0 209.9L813.5 210.1L814.0 210.1L814.5 210.1L815.0 209.9L815.5 209.7L816.0 209.5L816.5 209.4L817.0 209.2L817.5 209.0L818.0 208.7L818.5 208.5L819.0 208.2L819.5 207.9L820.0 207.6L820.5 207.4L821.0 207.2L821.5 206.9L822.0 206.5L822.5 206.1L823.0 205.7L823.5 205.4L824.0 204.7L824.5 204.0L825.0 203.3L825.5 202.5L826.0 201.7L826.5 200.7L827.0 199.6L827.5 198.6L828.0 197.7L828.5 196.9L829.0 196.1L829.5 195.4L830.0 194.5L830.5 193.9L831.0 193.5L831.5 193.3L832.0 192.9L832.5 192.9L833.0 192.9L833.5 193.3L834.0 193.7L834.5 194.1L835.0 194.9L835.5 195.8L836.0 196.7L836.5 197.6L837.0 198.7L837.5 199.7L838.0 200.7L838.5 201.8L839.0 202.8L839.5 203.6L840.0 204.1L840.5 204.6L841.0 205.2L841.5 205.7L842.0 205.8L842.5 206.0L843.0 206.1L843.5 205.9L844.0 205.7L844.5 205.2L845.0 204.6L845.5 204.0L846.0 203.2L846.5 202.3L847.0 201.3L847.5 200.4L848.0 199.6L848.5 198.9L849.0 198.3L849.5 197.7L850.0 197.2L850.5 196.9L851.0 196.7L851.5 196.7L852.0 196.9L852.5 197.1L853.0 197.5L853.5 197.8L854.0 198.1L854.5 198.5L855.0 198.9L855.5 199.3L856.0 199.7L856.5 200.0L857.0 200.3L857.5 200.7L858.0 201.0L858.5 201.1L859.0 201.1L859.5 201.1L860.0 201.1L860.5 200.9L861.0 200.7L861.5 200.3L862.0 199.9L862.5 199.5L863.0 198.9L863.5 198.3L864.0 197.6L864.5 197.0L865.0 196.5L865.5 195.7L866.0 194.8L866.5 193.8L867.0 192.7L867.5 191.5L868.0 190.0L868.5 188.3L869.0 186.6L869.5 184.8L870.0 182.8L870.5 180.6L871.0 178.2L871.5 175.7L872.0 173.0L872.5 170.2L873.0 167.3L873.5 164.4L874.0 161.5L874.5 158.4L875.0 155.2L875.5 152.0L876.0 148.9L876.5 145.8L877.0 142.9L877.5 140.3L878.0 137.9L878.5 135.6L879.0 133.4L879.5 131.4L880.0 129.7L880.5 128.0L881.0 126.3L881.5 125.0L882.0 123.9L882.5 122.9L883.0 122.1L883.5 121.4L884.0 120.8L884.5 120.3L885.0 119.9L885.5 119.8L886.0 119.7L886.5 119.5L887.0 118.9L887.5 118.1L888.0 117.1L888.5 115.8" stroke="#45c486" />
<path d="M92.5 571.4L93.0 571.6L93.5 571.8L94.0 572.2L94.5 572.5L95.0 572.9L95.5 573.3L96.0 573.8L96.5 574.3L97.0 575.0L97.5 575.7L98.0 576.5L98.5 577.3L99.0 578.1L99.5 578.9L100.0 579.7L100.5 580.3L101.0 581.0L101.5 581.5L102.0 582.1L102.5 582.6L103.0 582.9L103.5 582.9L104.0 582.8L104.5 582.6L105.0 582.4L105.5 582.2L106.0 581.7L106.5 581.1L107.0 580.5L107.5 579.9L108.0 579.3L108.5 578.9L109.0 578.5L109.5 578.0L110.0 577.4L110.5 577.2L111.0 577.2L111.5 577.2L112.0 577.2L112.5 577.3L113.0 577.4L113.5 577.4L114.0 577.6L114.5 577.6L115.0 577.6L115.5 577.3L116.0 576.8L116.5 576.3L117.0 576.0L117.5 575.5L118.0 574.8L118.5 574.0L119.0 573.1L119.5 572.4L120.0 571.7L120.5 571.1L121.0 570.3L121.5 569.3L122.0 568.3L122.5 567.6L123.0 567.2L123.5 566.8L124.0 566.4L124.5 566.2L125.0 566.0L125.5 566.0L126.0 566.1L126.5 566.1L127.0 566.0L127.5 566.0L128.0 565.9L128.5 565.7L129.0 565.4L129.5 565.2L130.0 564.9L130.5 564.6L131.0 564.8L131.5 564.9L132.0 565.1L132.5 565.5L133.0 566.1L133.5 566.6L134.0 567.3L134.5 568.0L135.0 568.8L135.5 569.3L136.0 570.0L136.5 570.7L137.0 571.1L137.5 571.6L138.0 572.1L138.5 572.6L139.0 573.0L139.5 573.7L140.0 574.2L140.5 574.6L141.0 575.0L141.5 575.3L142.0 575.8L142.5 576.3L143.0 576.8L143.5 577.3L144.0 577.5L144.5 578.1L145.0 578.6L145.5 579.1L146.0 579.7L146.5 580.2L147.0 580.6L147.5 581.1L148.0 581.8L148.5 582.5L149.0 583.0L149.5 583.4L150.0 584.0L150.5 584.5L151.0 585.0L151.5 585.6L152.0 585.9L152.5 585.8L153.0 585.7L153.5 585.7L154.0 585.6L154.5 585.5L155.0 585.0L155.5 584.6L156.0 583.8L156.5 583.3L157.0 582.8L157.5 582.5L158.0 582.1L158.5 581.6L159.0 581.1L159.5 580.7L160.0 580.3L160.5 580.0L161.0 579.6L161.5 579.2L162.0 578.7L162.5 578.1L163.0 577.4L163.5 576.7L164.0 576.1L164.5 575.6L165.0 575.2L165.5 574.7L166.0 574.5L166.5 574.5L167.0 574.7L167.5 575.2L168.0 575.8L168.5 576.3L169.0 576.8L169.5 577.3L170.0 577.8L170.5 578.3L171.0 578.4L171.5 578.6L172.0 578.8L172.5 579.1L173.0 579.5L173.5 579.8L174.0 579.8L174.5 580.0L175.0 580.3L175.5 580.6L176.0 580.6L176.5 580.3L177.0 579.9L177.5 579.7L178.0 579.3L178.5 579.0L179.0 578.6L179.5 578.4L180.0 578.2L180.5 578.1L181.0 578.0L181.5 578.0L182.0 577.8L182.5 577.7L183.0 577.8L183.5 577.9L184.0 577.8L184.5 577.8L185.0 577.7L185.5 577.9L186.0 578.1L186.5 578.4L187.0 578.8L187.5 579.2L188.0 579.6L188.5 580.1L189.0 580.7L189.5 581.5L190.0 582.6L190.5 583.9L191.0 585.3L191.5 586.7L192.0 588.2L192.5 590.1L193.0 592.0L193.5 594.0L194.0 596.0L194.5 597.8L195.0 599.5L195.5 601.2L196.0 602.6L196.5 603.9L197.0 604.8L197.5 605.2L198.0 605.6L198.5 605.7L199.0 605.4L199.5 605.0L200.0 604.2L200.5 603.4L201.0 602.5L201.5 601.5L202.0 600.7L202.5 599.6L203.0 598.5L203.5 597.4L204.0 596.2L204.5 595.1L205.0 593.8L205.5 592.3L206.0 590.7L206.5 588.9L207.0 587.1L207.5 585.4L208.0 583.2L208.5 581.2L209.0 579.3L209.5 577.5L210.0 575.8L210.5 574.3L211.0 572.9L211.5 571.7L212.0 570.6L212.5 569.9L213.0 569.3L213.5 568.7L214.0 568.3L214.5 567.9L215.0 567.5L215.5 567.1L216.0 566.8L216.5 566.6L217.0 566.3L217.5 566.0L218.0 565.7L218.5 565.4L219.0 564.8L219.5 564.5L220.0 564.3L220.5 563.9L221.0 563.3L221.5 562.7L222.0 562.0L222.5 561.4L223.0 561.0L223.5 560.8L224.0 560.8L224.5 561.0L225.0 561.1L225.5 561.4L226.0 561.7L226.5 562.0L227.0 562.4L227.5 562.7L228.0 563.0L228.5 563.1L229.0 563.1L229.5 563.2L230.0 563.5L230.5 563.9L231.0 564.4L231.5 565.0L232.0 565.5L232.5 566.1L233.0 566.8L233.5 567.6L234.0 568.6L234.5 569.8L235.0 570.6L235.5 571.3L236.0 571.9L236.5 572.3L237.0 572.7L237.5 572.7L238.0 572.5L238.5 572.1L239.0 571.3L239.5 570.7L240.0 570.0L240.5 569.2L241.0 568.4L241.5 567.5L242.0 566.7L242.5 566.0L243.0 565.0L243.5 563.9L244.0 562.9L244.5 562.0L245.0 561.2L245.5 560.5L246.0 559.8L246.5 559.1L247.0 558.2L247.5 557.5L248.0 557.0L248.5 556.4L249.0 555.7L249.5 554.8L250.0 553.9L250.5 553.2L251.0 552.6L251.5 551.9L252.0 551.1L252.5 550.3L253.0 549.7L253.5 549.1L254.0 548.8L254.5 548.6L255.0 548.3L255.5 548.3L256.0 548.8L256.5 549.3L257.0 550.1L257.5 550.7L258.0 551.5L258.5 552.3L259.0 553.3L259.5 554.3L260.0 555.1L260.5 555.7L261.0 556.5L261.5 557.1L262.0 557.8L262.5 558.6L263.0 559.3L263.5 560.1L264.0 560.4L264.5 560.8L265.0 561.1L265.5 561.0L266.0 560.8L266.5 560.4L267.0 559.7L267.5 558.8L268.0 557.6L268.5 556.7L269.0 555.6L269.5 554.6L270.0 553.7L270.5 552.7L271.0 551.9L271.5 551.3L272.0 550.7L272.5 550.1L273.0 549.3L273.5 548.8L274.0 548.0L274.5 547.3L275.0 546.6L275.5 545.7L276.0 544.8L276.5 544.0L277.0 543.1L277.5 542.4L278.0 541.7L278.5 541.3L279.0 540.8L279.5 540.6L280.0 540.7L280.5 541.0L281.0 541.3L281.5 541.9L282.0 542.5L282.5 543.1L283.0 543.8L283.5 544.6L284.0 545.4L284.5 546.1L285.0 546.6L285.5 547.0L286.0 547.3L286.5 547.7L287.0 548.1L287.5 548.7L288.0 549.3L288.5 549.5L289.0 549.7L289.5 549.8L290.0 550.0L290.5 550.3L291.0 550.5L291.5 550.7L292.0 550.6L292.5 550.6L293.0 550.7L293.5 550.8L294.0 551.2L294.5 551.7L295.0 552.0L295.5 552.2L296.0 552.6L296.5 552.9L297.0 553.2L297.5 553.4L298.0 553.5L298.5 553.5L299.0 553.4L299.5 553.3L300.0 553.0L300.5 552.7L301.0 552.2L301.5 551.7L302.0 551.3L302.5 551.1L303.0 550.9L303.5 550.7L304.0 550.6L304.5 550.4L305.0 550.4L305.5 550.6L306.0 550.8L306.5 550.8L307.0 550.5L307.5 550.4L308.0 550.2L308.5 550.2L309.0 550.1L309.5 549.8L310.0 549.3L310.5 548.9L311.0 548.4L311.5 548.0L312.0 547.6L312.5 547.3L313.0 547.2L313.5 547.1L314.0 547.2L314.5 547.5L315.0 548.0L315.5 548.4L316.0 549.0L316.5 549.7L317.0 550.2L317.5 550.6L318.0 551.1L318.5 551.5L319.0 552.0L319.5 552.4L320.0 553.1L320.5 553.7L321.0 554.3L321.5 554.9L322.0 555.6L322.5 556.3L323.0 557.0L323.5 557.6L324.0 558.1L324.5 558.4L325.0 558.6L325.5 558.6L326.0 558.5L326.5 558.5L327.0 558.2L327.5 557.8L328.0 557.3L328.5 556.7L329.0 556.3L329.5 556.0L330.0 555.7L330.5 555.3L331.0 554.9L331.5 554.4L332.0 554.4L332.5 554.3L333.0 554.2L333.5 554.1L334.0 554.0L334.5 553.9L335.0 553.8L335.5 553.7L336.0 553.6L336.5 553.3L337.0 553.0L337.5 552.9L338.0 552.8L338.5 552.5L339.0 552.1L339.5 551.4L340.0 550.2L340.5 548.6L341.0 546.5L341.5 543.9L342.0 541.0L342.5 537.8L343.0 534.7L343.5 531.5L344.0 528.5L344.5 525.9L345.0 523.4L345.5 521.0L346.0 519.0L346.5 517.3L347.0 515.8L347.5 514.6L348.0 513.7L348.5 512.8L349.0 512.1L349.5 511.9L350.0 512.3L350.5 513.0L351.0 513.5L351.5 514.1L352.0 514.7L352.5 515.4L353.0 515.9L353.5 516.2L354.0 516.4L354.5 516.2L355.0 515.7L355.5 515.3L356.0 515.0L356.5 514.6L357.0 514.1L357.5 513.7L358.0 513.3L358.5 513.1L359.0 513.0L359.5 512.9L360.0 512.7L360.5 512.3L361.0 512.0L361.5 511.7L362.0 511.3L362.5 510.9L363.0 510.3L363.5 509.3L364.0 508.5L364.5 507.7L365.0 506.6L365.5 505.3L366.0 503.8L366.5 502.5L367.0 500.9L367.5 499.2L368.0 497.6L368.5 495.5L369.0 493.4L369.5 491.4L370.0 489.5L370.5 487.7L371.0 485.6L371.5 483.6L372.0 481.7L372.5 479.9L373.0 478.3L373.5 476.5L374.0 474.9L374.5 473.2L375.0 471.5L375.5 470.1L376.0 468.8L376.5 467.8L377.0 466.6L377.5 465.6L378.0 464.8L378.5 464.0L379.0 463.5L379.5 463.0L380.0 462.4L380.5 461.8L381.0 461.2L381.5 460.7L382.0 460.1L382.5 459.4L383.0 458.7L383.5 458.0L384.0 457.2L384.5 456.6L385.0 456.0L385.5 455.5L386.0 455.4L386.5 455.8L387.0 456.7L387.5 457.8L388.0 459.5L388.5 461.6L389.0 463.8L389.5 466.0L390.0 468.1L390.5 469.8L391.0 471.1L391.5 472.0L392.0 472.7L392.5 472.9L393.0 472.7L393.5 472.2L394.0 472.0L394.5 471.9L395.0 472.2L395.5 472.7L396.0 473.5L396.5 474.2L397.0 474.9L397.5 475.9L398.0 477.0L398.5 477.9L399.0 478.7L399.5 479.0L400.0 479.0L400.5 478.9L401.0 478.6L401.5 478.4L402.0 477.8L402.5 477.2L403.0 476.5L403.5 475.7L404.0 475.1L404.5 474.4L405.0 473.7L405.5 472.8L406.0 471.7L406.5 470.7L407.0 469.4L407.5 468.3L408.0 467.3L408.5 466.2L409.0 464.9L409.5 463.5L410.0 462.2L410.5 460.6L411.0 459.0L411.5 457.6L412.0 456.1L412.5 454.7L413.0 453.3L413.5 452.1L414.0 450.9L414.5 449.5L415.0 448.6L415.5 448.0L416.0 447.5L416.5 447.4L417.0 447.2L417.5 447.6L418.0 448.5L418.5 450.0L419.0 452.2L419.5 455.0L420.0 457.6L420.5 460.2L421.0 462.6L421.5 465.1L422.0 466.9L422.5 468.4L423.0 469.7L423.5 470.4L424.0 470.3L424.5 470.4L425.0 470.4L425.5 470.2L426.0 470.2L426.5 470.4L427.0 470.5L427.5 470.4L428.0 470.5L428.5 470.9L429.0 471.1L429.5 471.1L430.0 471.0L430.5 470.7L431.0 470.0L431.5 469.5L432.0 468.7L432.5 467.8L433.0 467.0L433.5 466.6L434.0 466.6L434.5 467.2L435.0 468.2L435.5 469.3L436.0 470.4L436.5 471.7L437.0 473.0L437.5 473.9L438.0 474.5L438.5 474.8L439.0 474.6L439.5 474.2L440.0 473.8L440.5 473.5L441.0 473.0L441.5 472.6L442.0 472.4L442.5 472.2L443.0 472.0L443.5 471.8L444.0 471.6L444.5 471.5L445.0 471.5L445.5 471.8L446.0 471.9L446.5 471.8L447.0 471.9L447.5 472.1L448.0 472.4L448.5 472.8L449.0 473.1L449.5 473.5L450.0 473.8L450.5 474.4L451.0 475.2L451.5 475.9L452.0 476.3L452.5 476.6L453.0 476.5L453.5 476.5L454.0 476.3L454.5 475.9L455.0 475.4L455.5 474.9L456.0 474.2L456.5 473.4L457.0 473.0L457.5 472.9L458.0 472.7L458.5 472.6L459.0 472.4L459.5 472.0L460.0 471.4L460.5 470.7L461.0 470.1L461.5 469.3L462.0 468.4L462.5 467.3L463.0 466.0L463.5 464.4L464.0 463.2L464.5 462.0L465.0 461.1L465.5 460.1L466.0 459.1L466.5 458.0L467.0 456.8L467.5 455.8L468.0 454.8L468.5 453.5L469.0 452.1L469.5 450.6L470.0 448.9L470.5 446.9L471.0 445.1L471.5 443.1L472.0 441.3L472.5 440.1L473.0 439.1L473.5 438.6L474.0 438.6L474.5 439.1L475.0 440.0L475.5 441.5L476.0 443.3L476.5 445.1L477.0 446.9L477.5 448.7L478.0 450.3L478.5 451.6L479.0 452.8L479.5 453.9L480.0 455.0L480.5 455.9L481.0 456.6L481.5 456.9L482.0 457.0L482.5 456.7L483.0 456.2L483.5 455.5L484.0 454.6L484.5 453.5L485.0 452.2L485.5 451.0L486.0 450.1L486.5 449.1L487.0 448.3L487.5 447.6L488.0 446.2L488.5 445.3L489.0 445.0L489.5 444.9L490.0 445.2L490.5 446.0L491.0 447.3L491.5 448.3L492.0 449.3L492.5 450.8L493.0 452.1L493.5 452.6L494.0 453.0L494.5 453.1L495.0 452.6L495.5 451.7L496.0 451.0L496.5 450.3L497.0 449.4L497.5 448.4L498.0 447.4L498.5 446.3L499.0 444.7L499.5 443.1L500.0 441.7L500.5 440.4L501.0 439.1L501.5 438.0L502.0 436.7L502.5 435.5L503.0 434.3L503.5 433.2L504.0 432.2L504.5 431.0L505.0 429.9L505.5 428.8L506.0 427.6L506.5 426.6L507.0 425.6L507.5 424.6L508.0 423.9L508.5 423.4L509.0 423.0L509.5 422.6L510.0 422.4L510.5 422.2L511.0 422.2L511.5 422.2L512.0 422.5L512.5 422.9L513.0 423.2L513.5 423.4L514.0 423.8L514.5 424.1L515.0 424.5L515.5 425.0L516.0 425.5L516.5 425.8L517.0 426.3L517.5 426.8L518.0 427.4L518.5 427.8L519.0 428.1L519.5 428.4L520.0 428.7L520.5 428.8L521.0 428.7L521.5 428.2L522.0 427.7L522.5 427.2L523.0 426.7L523.5 426.2L524.0 425.6L524.5 424.8L525.0 424.3L525.5 423.8L526.0 423.4L526.5 422.8L527.0 422.0L527.5 420.9L528.0 419.9L528.5 418.5L529.0 417.1L529.5 415.6L530.0 413.8L530.5 412.1L531.0 410.4L531.5 408.7L532.0 407.3L532.5 406.1L533.0 405.0L533.5 404.2L534.0 403.5L534.5 403.2L535.0 402.8L535.5 402.6L536.0 402.7L536.5 402.4L537.0 401.7L537.5 401.0L538.0 400.1L538.5 399.0L539.0 397.8L539.5 396.2L540.0 394.3L540.5 392.3L541.0 390.6L541.5 389.3L542.0 388.1L542.5 387.2L543.0 386.4L543.5 385.8L544.0 385.6L544.5 385.4L545.0 385.5L545.5 385.8L546.0 386.0L546.5 386.1L547.0 386.2L547.5 386.2L548.0 386.2L548.5 386.3L549.0 386.5L549.5 386.6L550.0 386.4L550.5 386.6L551.0 387.0L551.5 387.3L552.0 387.6L552.5 388.1L553.0 388.6L553.5 389.2L554.0 390.2L554.5 391.0L555.0 391.6L555.5 392.0L556.0 392.2L556.5 392.0L557.0 391.5L557.5 391.0L558.0 390.2L558.5 389.4L559.0 388.6L559.5 387.9L560.0 387.0L560.5 386.3L561.0 385.9L561.5 385.2L562.0 384.5L562.5 383.8L563.0 382.7L563.5 381.5L564.0 379.9L564.5 378.4L565.0 376.7L565.5 375.2L566.0 373.7L566.5 372.0L567.0 370.7L567.5 369.4L568.0 368.3L568.5 367.5L569.0 366.5L569.5 365.8L570.0 365.0L570.5 364.5L571.0 364.2L571.5 363.8L572.0 363.7L572.5 363.1L573.0 362.3L573.5 361.6L574.0 360.4L574.5 359.5L575.0 358.5L575.5 357.7L576.0 356.9L576.5 356.2L577.0 356.1L577.5 356.3L578.0 356.9L578.5 358.0L579.0 359.4L579.5 360.9L580.0 362.7L580.5 364.5L581.0 366.5L581.5 368.4L582.0 370.6L582.5 372.9L583.0 375.4L583.5 377.9L584.0 380.2L584.5 382.1L585.0 384.3L585.5 386.5L586.0 389.0L586.5 391.7L587.0 394.0L587.5 396.0L588.0 397.8L588.5 399.6L589.0 401.5L589.5 403.3L590.0 404.8L590.5 405.5L591.0 405.4L591.5 405.6L592.0 405.7L592.5 405.5L593.0 405.0L593.5 404.2L594.0 402.9L594.5 401.4L595.0 399.9L595.5 398.3L596.0 395.9L596.5 393.1L597.0 390.3L597.5 387.3L598.0 384.8L598.5 382.6L599.0 381.5L599.5 381.2L600.0 381.4L600.5 382.1L601.0 383.2L601.5 384.3L602.0 386.1L602.5 387.4L603.0 388.4L603.5 388.6L604.0 388.2L604.5 387.7L605.0 387.6L605.5 387.7L606.0 387.7L606.5 387.5L607.0 387.5L607.5 387.3L608.0 387.1L608.5 387.2L609.0 387.6L609.5 387.8L610.0 387.9L610.5 388.0L611.0 388.2L611.5 388.6L612.0 389.2L612.5 389.4L613.0 388.9L613.5 388.0L614.0 386.8L614.5 385.1L615.0 383.5L615.5 381.3L616.0 379.1L616.5 377.3L617.0 376.1L617.5 375.6L618.0 375.5L618.5 375.8L619.0 376.9L619.5 378.3L620.0 380.6L620.5 382.9L621.0 384.9L621.5 386.8L622.0 389.0L622.5 391.5L623.0 394.0L623.5 395.9L624.0 397.7L624.5 398.7L625.0 399.3L625.5 399.9L626.0 400.0L626.5 399.7L627.0 399.1L627.5 398.3L628.0 397.9L628.5 397.3L629.0 397.0L629.5 396.9L630.0 396.7L630.5 396.9L631.0 396.9L631.5 396.9L632.0 396.7L632.5 396.3L633.0 395.7L633.5 395.2L634.0 394.5L634.5 394.0L635.0 393.4L635.5 392.9L636.0 392.0L636.5 391.2L637.0 390.7L637.5 390.3L638.0 389.6L638.5 388.9L639.0 388.4L639.5 387.6L640.0 386.6L640.5 385.7L641.0 385.0L641.5 384.0L642.0 383.3L642.5 382.6L643.0 381.6L643.5 380.0L644.0 378.7L644.5 377.3L645.0 376.2L645.5 375.2L646.0 374.4L646.5 373.6L647.0 373.1L647.5 372.7L648.0 372.4L648.5 372.2L649.0 371.9L649.5 371.6L650.0 370.9L650.5 370.3L651.0 369.7L651.5 368.7L652.0 368.0L652.5 367.7L653.0 367.3L653.5 367.2L654.0 366.9L654.5 366.6L655.0 366.0L655.5 364.9L656.0 364.3L656.5 363.5L657.0 362.8L657.5 362.1L658.0 361.4L658.5 360.7L659.0 360.0L659.5 359.4L660.0 359.2L660.5 358.5L661.0 358.0L661.5 357.4L662.0 356.5L662.5 355.2L663.0 354.0L663.5 352.7L664.0 351.0L664.5 349.2L665.0 347.2L665.5 344.7L666.0 342.3L666.5 340.1L667.0 338.4L667.5 336.7L668.0 334.9L668.5 333.5L669.0 331.8L669.5 330.3L670.0 328.8L670.5 327.4L671.0 326.1L671.5 324.3L672.0 322.7L672.5 321.6L673.0 320.7L673.5 320.0L674.0 319.4L674.5 319.4L675.0 319.3L675.5 319.4L676.0 319.7L676.5 319.7L677.0 319.9L677.5 319.9L678.0 320.1L678.5 320.1L679.0 319.9L679.5 319.8L680.0 319.4L680.5 318.7L681.0 318.2L681.5 317.5L682.0 316.5L682.5 315.6L683.0 314.8L683.5 314.2L684.0 313.9L684.5 313.3L685.0 313.6L685.5 313.8L686.0 314.1L686.5 315.1L687.0 316.1L687.5 317.1L688.0 317.9L688.5 318.9L689.0 320.1L689.5 321.1L690.0 322.3L690.5 323.4L691.0 323.9L691.5 324.6L692.0 325.0L692.5 325.3L693.0 325.3L693.5 324.9L694.0 324.3L694.5 323.5L695.0 322.6L695.5 321.9L696.0 320.8L696.5 320.1L697.0 319.4L697.5 318.8L698.0 318.5L698.5 318.3L699.0 318.3L699.5 318.3L700.0 318.4L700.5 318.3L701.0 318.1L701.5 318.3L702.0 317.7L702.5 316.2L703.0 314.5L703.5 312.4L704.0 310.0L704.5 307.2L705.0 304.6L705.5 302.3L706.0 299.3L706.5 297.1L707.0 295.4L707.5 293.7L708.0 292.2L708.5 291.2L709.0 290.2L709.5 289.4L710.0 288.5L710.5 288.2L711.0 287.7L711.5 287.5L712.0 287.6L712.5 287.5L713.0 287.0L713.5 286.6L714.0 286.0L714.5 284.8L715.0 283.3L715.5 282.1L716.0 280.5L716.5 278.9L717.0 277.4L717.5 275.6L718.0 273.8L718.5 271.8L719.0 270.1L719.5 268.3L720.0 266.5L720.5 264.8L721.0 263.3L721.5 261.6L722.0 260.4L722.5 260.0L723.0 260.7L723.5 262.4L724.0 264.5L724.5 266.9L725.0 269.9L725.5 272.9L726.0 276.7L726.5 280.8L727.0 284.1L727.5 285.7L728.0 286.2L728.5 285.9L729.0 284.3L729.5 281.7L730.0 278.4L730.5 274.1L731.0 268.3L731.5 262.7L732.0 257.3L732.5 251.7L733.0 246.1L733.5 241.4L734.0 236.9L734.5 232.6L735.0 228.4L735.5 224.6L736.0 220.9L736.5 217.5L737.0 213.9L737.5 210.5L738.0 207.1L738.5 204.0L739.0 200.6L739.5 197.9L740.0 196.4L740.5 195.4L741.0 195.3L741.5 196.1L742.0 197.6L742.5 199.8L743.0 201.7L743.5 204.5L744.0 207.1L744.5 209.5L745.0 211.1L745.5 213.0L746.0 215.0L746.5 216.9L747.0 218.4L747.5 220.5L748.0 222.5L748.5 224.5L749.0 226.4L749.5 227.4L750.0 227.7L750.5 227.1L751.0 225.9L751.5 223.8L752.0 220.9L752.5 217.6L753.0 213.5L753.5 209.0L754.0 205.6L754.5 202.7L755.0 200.8L755.5 199.4L756.0 198.9L756.5 199.7L757.0 200.4L757.5 202.4L758.0 204.8L758.5 207.6L759.0 210.4L759.5 212.9L760.0 215.5L760.5 218.0L761.0 220.3L761.5 223.1L762.0 226.0L762.5 228.6L763.0 230.5L763.5 232.0L764.0 233.2L764.5 233.4L765.0 233.3L765.5 232.4L766.0 230.9L766.5 228.4L767.0 225.8L767.5 222.9L768.0 219.7L768.5 216.5L769.0 213.7L769.5 210.7L770.0 208.2L770.5 206.6L771.0 205.8L771.5 204.9L772.0 204.6L772.5 205.2L773.0 206.3L773.5 207.9L774.0 210.1L774.5 212.3L775.0 213.5L775.5 214.7L776.0 215.7L776.5 216.5L777.0 216.4L777.5 215.9L778.0 214.6L778.5 212.9L779.0 211.0L779.5 209.2L780.0 207.2L780.5 204.9L781.0 203.2L781.5 201.6L782.0 199.7L782.5 198.4L783.0 197.2L783.5 196.3L784.0 195.8L784.5 195.4L785.0 195.0L785.5 194.0L786.0 193.1L786.5 193.0L787.0 192.7L787.5 192.2L788.0 191.2L788.5 190.0L789.0 189.0L789.5 188.2L790.0 187.9L790.5 187.8L791.0 187.1L791.5 186.4L792.0 186.1L792.5 186.3L793.0 186.4L793.5 186.5L794.0 186.7L794.5 186.7L795.0 187.1L795.5 188.1L796.0 189.3L796.5 190.4L797.0 191.1L797.5 192.4L798.0 193.9L798.5 195.3L799.0 196.8L799.5 198.0L800.0 199.0L800.5 200.0L801.0 201.0L801.5 202.2L802.0 203.3L802.5 204.3L803.0 205.7L803.5 206.9L804.0 208.3L804.5 209.5L805.0 210.8L805.5 212.0L806.0 212.7L806.5 213.4L807.0 213.7L807.5 213.5L808.0 213.3L808.5 212.4L809.0 211.5L809.5 210.1L810.0 209.1L810.5 208.4L811.0 207.6L811.5 207.1L812.0 206.5L812.5 206.1L813.0 206.4L813.5 206.9L814.0 207.9L814.5 208.6L815.0 209.1L815.5 209.7L816.0 210.3L816.5 210.8L817.0 211.1L817.5 210.8L818.0 210.2L818.5 209.6L819.0 208.8L819.5 208.0L820.0 206.7L820.5 205.3L821.0 204.2L821.5 202.9L822.0 201.8L822.5 200.7L823.0 199.8L823.5 199.2L824.0 198.2L824.5 197.7L825.0 197.2L825.5 196.4L826.0 195.6L826.5 194.9L827.0 193.8L827.5 192.7L828.0 192.0L828.5 191.5L829.0 190.8L829.5 190.1L830.0 189.4L830.5 189.1L831.0 189.3L831.5 190.1L832.0 190.6L832.5 191.4L833.0 192.4L833.5 194.0L834.0 196.1L834.5 198.3L835.0 201.1L835.5 203.5L836.0 206.1L836.5 208.5L837.0 210.6L837.5 212.1L838.0 213.0L838.5 213.5L839.0 214.0L839.5 213.4L840.0 212.1L840.5 210.4L841.0 208.6L841.5 206.5L842.0 204.7L842.5 202.9L843.0 201.0L843.5 199.0L844.0 197.2L844.5 195.9L845.0 194.9L845.5 194.2L846.0 193.7L846.5 193.4L847.0 193.0L847.5 193.2L848.0 193.7L848.5 194.4L849.0 195.2L849.5 196.1L850.0 197.0L850.5 198.0L851.0 198.8L851.5 199.9L852.0 200.6L852.5 201.3L853.0 202.1L853.5 202.7L854.0 203.0L854.5 203.1L855.0 203.1L855.5 203.1L856.0 202.7L856.5 202.4L857.0 202.0L857.5 201.4L858.0 201.1L858.5 200.5L859.0 200.0L859.5 199.5L860.0 199.1L860.5 198.8L861.0 198.3L861.5 197.5L862.0 196.6L862.5 195.6L863.0 194.8L863.5 194.0L864.0 193.2L864.5 192.4L865.0 191.7L865.5 190.7L866.0 189.4L866.5 187.9L867.0 186.0L867.5 184.0L868.0 181.3L868.5 178.2L869.0 175.0L869.5 171.5L870.0 167.8L870.5 164.1L871.0 160.2L871.5 156.5L872.0 152.3L872.5 148.4L873.0 144.6L873.5 140.8L874.0 136.9L874.5 133.4L875.0 130.2L875.5 127.3L876.0 125.0L876.5 123.3L877.0 122.0L877.5 121.3L878.0 120.6L878.5 120.3L879.0 120.1L879.5 120.3L880.0 120.9L880.5 120.9L881.0 120.9L881.5 121.1L882.0 120.9L882.5 121.0L883.0 120.7L883.5 120.5L884.0 119.9L884.5 119.1L885.0 118.7L885.5 118.8L886.0 118.5L886.5 117.7L887.0 116.1L887.5 114.2L888.0 111.9L888.5 109.2" stroke="#3d8bff" />
</g>
<g shape-rendering="auto">
<path d="M91 88.5H1100" stroke="#1e90ff" stroke-width="1.1" stroke-dasharray="4 2.5"/>
</g>
<g shape-rendering="auto">
<path d="M855 45.5H1100" stroke="#ff0000" stroke-width="1.15"/>
<path d="M855 133.5H1100" stroke="#ff0000" stroke-width="1.15"/>
<path d="M855 148.5H1100" stroke="#ff0000" stroke-width="1.15"/>
<path d="M855 161.5H1100" stroke="#ff0000" stroke-width="1.15"/>
<path d="M855 173.5H1100" stroke="#ff0000" stroke-width="1.15"/>
<path d="M855 188.5H1100" stroke="#ff0000" stroke-width="1.15"/>
<path d="M855 109.5H1099M855 212.5H1099" stroke="#0000ff" stroke-width="1" stroke-dasharray="3.5 2.5"/>
<path d="M856 212.4L873 109.2" stroke="#0000ff" stroke-width="1.1" stroke-dasharray="3 2.5"/>
</g>
<path d="M886 86.5H893M888.5 84V88" stroke="#000" stroke-width="1"/>
<path d="M20 663.5H1170" stroke="#dfe6ec"/><path d="M20 683.5H1170" stroke="#cbd3db"/>
<path d="M644 698H1170" stroke="#c6ced7" stroke-width="1.6"/>
<path d="M92.5 664V669M234.5 664V669M375.5 664V669M517.5 664V669M659.5 664V669M801.5 664V669" stroke="#c9d3dc"/>
</svg>

<!-- sidebar -->
<div class="side" style="top:0;height:51px;"><span style="top:6.7px">分</span><span style="top:20.9px">时</span><span style="top:34.9px">图</span></div>
<div class="side" style="top:50px;height:48px;width:19.5px;background:#d9e9f6;"></div>
<div class="side" style="top:51px;height:46px;width:19px;background:#ff6a00;color:#fff;"><span style="top:5.3px;font-family:'Liberation Mono',monospace;">K</span><span style="top:18.7px">线</span><span style="top:32.9px">图</span></div>
<div class="side" style="top:97px;height:52px;"><span style="top:7.7px">闪</span><span style="top:21.7px">电</span><span style="top:35.2px">图</span></div>
<div class="side" style="top:149px;height:64px;border-top:1px solid #d4d6de;"><span style="top:7.2px">合</span><span style="top:20.7px">约</span><span style="top:34.2px">资</span><span style="top:48.2px">料</span></div>
<div style="left:0;top:213px;width:20px;height:486px;background:#fff;border:1px solid #cad2da;border-bottom:1.4px solid #c4ccd4;"></div>

<!-- sun icon -->
<svg style="position:absolute;left:21px;top:0" width="16" height="15" viewBox="0 0 16 15">
<path d="M7.5 0V2M7.5 12V14M1 6.5H3.1M13 6.5H15.1" stroke="#ff0000" stroke-width="1" fill="none"/>
<path d="M2.3 1.3L4 3M13.7 1.3L12 3M2.3 12.6L4 10.9M13.7 12.6L12 10.9" stroke="#ff0000" stroke-width="1.15" stroke-linecap="round" fill="none"/>
<circle cx="8" cy="7" r="3.55" fill="#fff" stroke="#000" stroke-width="1"/>
<circle cx="8" cy="7" r="2.05" fill="#ff0000"/>
</svg>

<!-- header -->
<div class="hd" style="left:92px;font-weight:500;color:#111;">现货黄金</div>
<div class="hd" style="left:140.2px;color:#ff7a0f;letter-spacing:0.1px;">【240分】</div>
<svg style="position:absolute;left:196px;top:6px" width="12" height="12" viewBox="0 0 12 12" fill="none" stroke="#ff7a0f" stroke-width="0.85"><circle cx="5.5" cy="5.5" r="4"/><path d="M1.5 5.5H9.5" stroke-width="1"/><path d="M5.5 1.5V9.5" stroke-width="0.7"/></svg>
<svg style="position:absolute;left:214px;top:1px" width="14" height="15" viewBox="0 0 14 15" fill="none"><path d="M12.5 1.5V13.5H1.5" stroke="#8d8d7c"/><rect x="0.5" y="0.5" width="11" height="12" rx="1" fill="#fff" stroke="#00008b" stroke-width="1"/><path d="M1.3 7.5L4.5 3.3L7.5 6.6L9.4 4.4H11" stroke="#ff0000" stroke-width="1.1"/><path d="M1.3 10.5L4.5 6.3L7.5 9.6L9.4 7.4H11" stroke="#0000ff" stroke-width="1.1"/></svg>
<div class="hd" style="left:229.6px;color:#111;letter-spacing:0.14px;">MA(20,50,100,200,0,0)</div>
<div class="hd" style="left:360.2px;color:#4d94ff;letter-spacing:0.25px;">MA20:3698.88</div>
<div class="hd" style="left:450.8px;color:#55cb8c;letter-spacing:0.22px;">MA50:3676.30</div>
<div class="hd" style="left:541px;color:#3fb4ee;letter-spacing:0.22px;">MA100:3623.63</div>
<div class="hd" style="left:637.6px;color:#ff9240;letter-spacing:0.22px;">MA200:3493.44</div>
<div class="hd" style="left:734.4px;color:#ea84e2;letter-spacing:0.25px;">MA0:3781.68</div>
<div class="hd" style="left:817.5px;color:#9494f6;letter-spacing:0.25px;">MA0:3781.68</div>

<!-- toolbar icons -->
<svg style="position:absolute;left:1037px;top:1px" width="62" height="14" viewBox="0 0 62 14" fill="none" stroke="#1874cd">
<rect x="0.5" y="0.5" width="13" height="13" fill="#fff"/>
<path d="M7 2.3V4.6M7 9.4V11.7M2.2 7.1H4.6M9.4 7.1H11.8M6.2 7.1H7.8" stroke-width="1.5"/>
<rect x="16.5" y="0.5" width="13" height="13" fill="#fff"/>
<path d="M19.6 3V11.4M18.4 11.4H27.4" stroke-width="1.1"/>
<path d="M19.6 1.9L18.1 4.3H21.1ZM28.4 11.4L26 9.9V12.9ZM17.6 11.4L19.3 10.1V12.7ZM19.6 12.6L18.5 11H20.7Z" fill="#1874cd" stroke="none"/>
<path d="M22.8 2.9V8.6" stroke-width="1.3"/><path d="M26.3 3.1L23.4 5.7L26.3 8.3Z" fill="#1874cd" stroke="none"/>
<rect x="32" y="0" width="14" height="14" fill="#1874cd" stroke="none"/>
<path d="M35.5 3V11.4M34.4 11.4H43.2" stroke="#fff" stroke-width="1.2"/>
<path d="M35.5 1.8L34 4.3H37ZM44.2 11.4L41.8 9.9V12.9ZM33.6 11.4L35.2 10.2V12.6Z" fill="#fff" stroke="none"/>
<path d="M37.8 2.7L43.7 6.3L37.8 9.9Z" fill="#fff" stroke="none"/><path d="M39 4.8L41.4 6.3L39 7.8Z" fill="#cfe2f5" stroke="none"/>
<rect x="48.5" y="0.5" width="13" height="13" fill="#fff"/>
<rect x="56.7" y="2.9" width="3.1" height="8.3" stroke-width="1.2"/>
<path d="M53 7.05H58" stroke-width="1.7"/><path d="M50.3 7.05L53.5 4.1V10Z" fill="#1874cd" stroke="none"/>
</svg>

<div class="yl" style="top:14.0px">4034.00</div>
<div class="yr" style="top:14.0px">4034.00</div>
<div class="yl" style="top:72.0px">3813.36</div>
<div class="yr" style="top:72.0px">3813.36</div>
<div class="yl" style="top:130.0px">3592.72</div>
<div class="yr" style="top:130.0px">3592.72</div>
<div class="yl" style="top:189.0px">3372.07</div>
<div class="yr" style="top:189.0px">3372.07</div>
<div class="yl" style="top:247.0px">3151.43</div>
<div class="yr" style="top:247.0px">3151.43</div>
<div class="yl" style="top:305.0px">2930.79</div>
<div class="yr" style="top:305.0px">2930.79</div>
<div class="yl" style="top:364.0px">2710.15</div>
<div class="yr" style="top:364.0px">2710.15</div>
<div class="yl" style="top:422.0px">2489.51</div>
<div class="yr" style="top:422.0px">2489.51</div>
<div class="yl" style="top:480.0px">2268.86</div>
<div class="yr" style="top:480.0px">2268.86</div>
<div class="yl" style="top:538.0px">2048.22</div>
<div class="yr" style="top:538.0px">2048.22</div>
<div class="yl" style="top:597.0px">1827.58</div>
<div class="yr" style="top:597.0px">1827.58</div>
<div class="fib" style="top:30.8px">1.618 \ 3942.90</div>
<div class="fib" style="top:118.8px">0.764 \ 3609.28</div>
<div class="fib" style="top:133.8px">0.618 \ 3552.24</div>
<div class="fib" style="top:146.8px">0.500 \ 3506.15</div>
<div class="fib" style="top:158.8px">0.382 \ 3460.05</div>
<div class="fib" style="top:173.8px">0.236 \ 3403.01</div>
<div class="hd" style="left:893.3px;top:71.8px;color:#ec4258;letter-spacing:0.1px;-webkit-text-stroke:0.3px #ec4258;">3790.97</div>

<!-- current price tag -->
<div style="left:1100px;top:88.2px;width:69px;height:17.4px;border:1.3px solid #ff7f0e;border-radius:1.5px;background:#fff;color:#ff8a1f;line-height:14px;padding:1px 0 0 2.4px;">3781.64</div>
<svg style="position:absolute;left:1159px;top:79px" width="11" height="10" viewBox="0 0 11 10"><path d="M5.3 1L8.8 4.5H1.8Z" fill="#ff7f0e"/><path d="M5.3 5.2L9.3 9.5H1.3Z" fill="#ff7f0e"/></svg>

<!-- bottom -->
<div style="left:20px;top:663px;width:70px;height:20px;border:1px solid #cdd5dd;background:#fff;"></div>
<div style="left:30.2px;top:665.5px;height:16px;line-height:16px;color:#ff7a0f;font-weight:bold;font-size:12.5px;">240分</div>
<svg style="position:absolute;left:68px;top:669px" width="10" height="10" viewBox="0 0 10 10"><path d="M4.7 0.6L9 8.8H0.4Z" fill="#ff7a0f"/></svg>
<div class="dt" style="left:94.4px">06/21</div><div class="dt" style="left:236.6px">11/14</div><div class="dt" style="left:377.5px">04/11</div><div class="dt" style="left:519.5px">09/04</div><div class="dt" style="left:661.3px">01/30</div><div class="dt" style="left:802.9px">06/26</div>
<div class="tab on cn" style="left:20.0px;width:39.0px">指标</div><div class="tab cn" style="left:59.0px;width:41.0px">模板</div><div class="tab vip cn" style="left:100.0px;width:58.0px"><span class="ln">VIP</span>指标</div><div class="tab " style="left:158.0px;width:46.0px"><span class="ln">EXPMA</span></div><div class="tab on" style="left:204.0px;width:27.0px"><span class="ln">MA</span></div><div class="tab " style="left:231.0px;width:41.0px"><span class="ln">MACD</span></div><div class="tab " style="left:272.0px;width:28.0px"><span class="ln">PP</span></div><div class="tab " style="left:300.0px;width:100.0px"><span class="ln">ICHIMOKU CLOUD</span></div><div class="tab " style="left:400.0px;width:34.0px"><span class="ln">CCI</span></div><div class="tab " style="left:434.0px;width:34.0px"><span class="ln">KDJ</span></div><div class="tab " style="left:468.0px;width:35.0px"><span class="ln">RSI</span></div><div class="tab " style="left:503.0px;width:40.0px"><span class="ln">BOLL</span></div><div class="tab " style="left:543.0px;width:27.0px"><span class="ln">CR</span></div><div class="tab " style="left:570.0px;width:34.0px"><span class="ln">PSY</span></div><div class="tab cn" style="left:604.0px;width:40.0px">设置</div>

<!-- watermark -->
<div style="left:1041px;top:645px;font-size:32px;line-height:36px;height:36px;letter-spacing:1.2px;color:#dce8f6;text-shadow:1.2px 1.2px 1px rgba(150,110,90,0.75);">FX678</div>
</body>
</html>
